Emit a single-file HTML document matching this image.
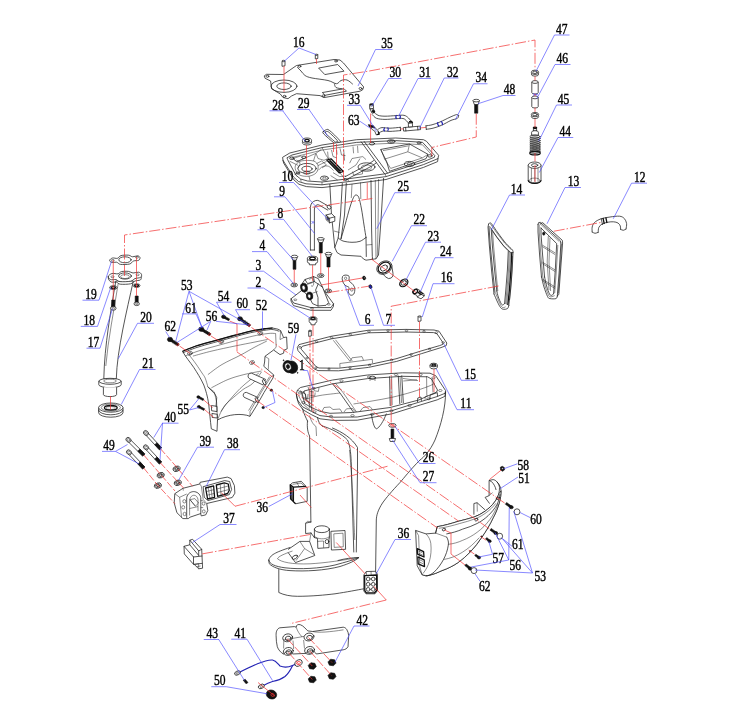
<!DOCTYPE html>
<html><head><meta charset="utf-8"><title>Exploded view</title>
<style>
html,body{margin:0;padding:0;background:#fff}
svg{display:block;will-change:transform}
.k{fill:none;stroke:#1c1c1c;stroke-width:.75;stroke-linejoin:round;stroke-linecap:round}
.kw{fill:#fff;stroke:#1c1c1c;stroke-width:.75;stroke-linejoin:round}
.kt{fill:none;stroke:#1c1c1c;stroke-width:.5;stroke-linejoin:round}
.kk{fill:none;stroke:#111;stroke-width:1.3;stroke-linejoin:round}
.f{fill:#111;stroke:#111;stroke-width:.6;stroke-linejoin:round}
.r{fill:none;stroke:#f23030;stroke-width:.7;stroke-dasharray:11 2 1.5 2}
.rs{fill:none;stroke:#f23030;stroke-width:.7}
.b{fill:none;stroke:#4848ff;stroke-width:.65}
.bb{fill:none;stroke:#2222b4;stroke-width:1.15}
text{font-family:"Liberation Serif",serif;font-size:13.8px;fill:#000;stroke:#000;stroke-width:.4px}
</style></head><body>
<svg width="738" height="720" viewBox="0 0 738 720">
<rect width="738" height="720" fill="#fff"/>
<!-- s_top -->
<polygon class="k" points="264.50,75.70 266.50,74.30 283.50,74.50 296.50,65.50 334.00,59.50 340.00,60.00 343.50,63.00 363.70,87.00 362.50,90.00 360.00,91.20 324.00,97.60 320.00,95.60 296.50,93.70 291.50,96.00 288.00,98.70 283.00,97.50 280.30,94.00 271.50,88.70 270.60,81.00 265.50,78.50" />
<ellipse class="k" cx="284.00" cy="86.20" rx="13.00" ry="6.20" />
<ellipse class="k" cx="284.00" cy="86.20" rx="7.20" ry="3.30" />
<polygon class="k" points="319.00,68.00 337.70,64.50 344.00,71.20 325.20,74.50" />
<path class="k" d="M297.50 67.50C298.08 68.08 299.75 69.67 301.00 71.00C302.25 72.33 303.17 74.33 305.00 75.50C306.83 76.67 308.17 77.17 312.00 78.00C315.83 78.83 323.92 79.55 328.00 80.50C332.08 81.45 334.33 83.70 336.50 83.70C338.67 83.70 339.25 81.12 341.00 80.50C342.75 79.88 345.08 79.42 347.00 80.00C348.92 80.58 351.58 83.33 352.50 84.00" />
<polygon class="k" points="322.70,92.50 344.00,88.70 346.50,91.20 325.50,95.20" />
<path class="k" d="M334.50 84.00C334.75 84.58 334.75 86.70 336.00 87.50C337.25 88.30 341.00 88.58 342.00 88.80" />
<ellipse class="k" cx="267.50" cy="76.30" rx="1.40" ry="1.00" />
<ellipse class="k" cx="299.50" cy="66.30" rx="1.40" ry="1.00" />
<ellipse class="k" cx="336.00" cy="61.00" rx="1.40" ry="1.00" />
<ellipse class="k" cx="360.50" cy="88.50" rx="1.40" ry="1.00" />
<ellipse class="k" cx="323.50" cy="95.80" rx="1.40" ry="1.00" />
<ellipse class="k" cx="284.50" cy="96.30" rx="1.40" ry="1.00" />
<polygon class="kw" points="282.00,61.30 285.00,60.80 285.00,65.80 282.00,66.30" />
<ellipse class="kw" cx="283.50" cy="61.00" rx="1.50" ry="0.70" />
<polygon class="kw" points="315.30,55.00 317.80,54.60 317.80,58.50 315.30,58.90" />
<ellipse class="kw" cx="316.50" cy="54.80" rx="1.30" ry="0.60" />
<ellipse class="kw" cx="307.00" cy="142.40" rx="4.60" ry="2.60" />
<ellipse class="kw" cx="307.00" cy="140.60" rx="4.60" ry="2.60" />
<ellipse class="kk" cx="307.00" cy="140.60" rx="2.20" ry="1.20" />
<path class="k" d="M323.30 131.60C323.63 130.92 324.80 130.12 325.80 129.90C326.80 129.68 327.00 128.57 329.30 130.30C331.60 132.03 337.92 138.20 339.60 140.30C341.28 142.40 339.97 142.35 339.40 142.90C338.83 143.45 337.17 143.65 336.20 143.60C335.23 143.55 335.67 144.20 333.60 142.60C331.53 141.00 325.52 135.83 323.80 134.00C322.08 132.17 322.97 132.28 323.30 131.60Z" />
<path class="k" d="M325.60 132.20C326.07 131.93 326.62 130.57 328.60 132.00C330.58 133.43 336.23 139.17 337.50 140.80C338.77 142.43 336.72 141.72 336.20 141.80C335.68 141.88 336.13 142.67 334.40 141.30C332.67 139.93 327.27 135.12 325.80 133.60C324.33 132.08 325.13 132.47 325.60 132.20Z" />
<polygon class="kw" points="369.50,105.30 373.30,104.80 373.60,108.50 369.80,109.00" />
<ellipse class="kw" cx="371.40" cy="105.00" rx="1.90" ry="0.90" />
<polygon class="kw" points="370.00,109.00 373.30,108.60 374.80,112.20 372.00,113.30" />
<polygon class="f" points="372.80,109.60 375.00,111.20 374.00,113.00 371.80,111.60" />
<polyline class="kk" points="369.60,104.40 373.40,104.00" />
<path class="k" d="M374.00 112.20C374.67 112.72 376.17 114.63 378.00 115.30C379.83 115.97 382.00 116.15 385.00 116.20C388.00 116.25 392.83 115.75 396.00 115.60C399.17 115.45 401.92 114.90 404.00 115.30C406.08 115.70 407.25 116.93 408.50 118.00C409.75 119.07 411.00 121.08 411.50 121.70" />
<path class="k" d="M372.30 114.60C373.00 115.22 374.38 117.50 376.50 118.30C378.62 119.10 381.75 119.33 385.00 119.40C388.25 119.47 393.00 118.85 396.00 118.70C399.00 118.55 401.30 118.20 403.00 118.50C404.70 118.80 405.23 119.65 406.20 120.50C407.17 121.35 408.37 123.08 408.80 123.60" />
<path class="bb" d="M396.6 115q-1.6 1.9 0 3.9M399.6 114.8q1.6 1.9 0 4" stroke-width="1.7"/>
<path class="k" d="M378.00 129.30C378.67 129.02 380.00 127.78 382.00 127.60C384.00 127.42 386.95 128.25 390.00 128.20C393.05 128.15 398.58 127.45 400.30 127.30" />
<path class="k" d="M379.00 133.00C379.67 132.67 381.17 131.27 383.00 131.00C384.83 130.73 387.07 131.47 390.00 131.40C392.93 131.33 398.83 130.73 400.60 130.60" />
<polyline class="k" points="400.30,127.30 400.60,130.60" />
<path class="bb" d="M384.6 127.6q-1.5 1.9 .1 3.8M387.6 127.4q1.5 1.8 .1 3.8" stroke-width="1.7"/>
<polygon class="kw" points="370.00,125.80 374.50,127.00 377.80,130.60 379.20,134.20 376.20,134.80 374.80,131.20 371.50,129.00" />
<polygon class="f" points="368.30,124.60 373.60,125.80 374.60,128.00 369.30,127.00" />
<polyline class="kk" points="376.80,134.60 379.20,134.20 378.20,131.60" />
<polyline class="kk" points="408.20,123.20 412.40,122.80" />
<polyline class="kk" points="409.00,121.60 411.60,121.30 412.60,123.00" />
<polygon class="kw" points="403.30,127.60 420.30,126.10 420.60,129.60 403.60,131.10" />
<polygon class="kw" points="408.50,127.00 408.30,123.30 412.30,122.90 412.60,126.70" />
<polyline class="k" points="405.60,127.40 405.90,131.00" />
<polyline class="k" points="417.60,126.40 417.90,129.90" />
<polyline class="rs" points="400.60,129.00 403.40,128.90" />
<polyline class="rs" points="420.60,127.90 426.00,127.40" />
<path class="k" d="M426.00 125.80C427.00 125.63 429.67 125.43 432.00 124.80C434.33 124.17 437.00 123.27 440.00 122.00C443.00 120.73 447.25 118.43 450.00 117.20C452.75 115.97 455.07 114.87 456.50 114.60C457.93 114.33 458.25 115.43 458.60 115.60" />
<path class="k" d="M426.30 129.30C427.42 129.12 430.47 128.87 433.00 128.20C435.53 127.53 438.50 126.60 441.50 125.30C444.50 124.00 448.37 121.55 451.00 120.40C453.63 119.25 456.03 119.20 457.30 118.40C458.57 117.60 458.38 116.07 458.60 115.60" />
<polyline class="k" points="426.00,125.80 426.30,129.30" />
<path class="bb" d="M437.8 122.3q-.8 2.4 1.4 4M440.8 121.1q2.2 1.6 1.5 4" stroke-width="1.7"/>
<polygon class="f" points="474.60,104.00 477.80,104.00 477.80,113.20 474.60,113.20" />
<path class="kw" d="M473.00 100.60L479.40 100.60L478.10 104.50L474.30 104.50Z" />
<ellipse class="kw" cx="476.20" cy="100.60" rx="3.20" ry="1.30" />
<ellipse class="kw" cx="535.00" cy="74.00" rx="3.70" ry="2.20" />
<ellipse class="kw" cx="535.00" cy="72.30" rx="3.70" ry="2.20" />
<ellipse class="k" cx="535.00" cy="72.30" rx="2.20" ry="1.20" />
<path class="kw" d="M531.8 82v10.6a3.2 1.4 0 0 0 6.4 0V82" />
<ellipse class="kw" cx="535.00" cy="82.00" rx="3.20" ry="1.40" />
<path class="kw" d="M531.8 97.4v9.2a3.2 1.4 0 0 0 6.4 0V97.4" />
<ellipse class="kw" cx="535.00" cy="97.40" rx="3.20" ry="1.40" />
<path class="b" d="M533 93.6q2 1.2 4.5 .6M533 95.4q2-1.2 4.5-.6" />
<ellipse class="kw" cx="535.00" cy="116.40" rx="3.70" ry="2.20" />
<ellipse class="kw" cx="535.00" cy="114.60" rx="3.70" ry="2.20" />
<ellipse class="k" cx="535.00" cy="114.60" rx="2.20" ry="1.20" />
<polygon class="kw" points="533.40,127.60 536.60,127.60 536.60,131.00 533.40,131.00" />
<ellipse class="kk" cx="535.00" cy="127.80" rx="1.60" ry="0.70" />
<path class="kw" d="M531.6 132.2a3.4 1.5 0 0 1 6.8 0v3h-6.8z" />
<ellipse class="k" cx="535.00" cy="136.60" rx="5.20" ry="1.60" />
<ellipse class="k" cx="535.00" cy="138.50" rx="5.20" ry="1.60" />
<ellipse class="k" cx="535.00" cy="140.40" rx="5.20" ry="1.60" />
<ellipse class="k" cx="535.00" cy="142.30" rx="5.20" ry="1.60" />
<ellipse class="k" cx="535.00" cy="144.20" rx="5.20" ry="1.60" />
<ellipse class="k" cx="535.00" cy="146.10" rx="5.20" ry="1.60" />
<ellipse class="k" cx="535.00" cy="148.00" rx="5.20" ry="1.60" />
<ellipse class="k" cx="535.00" cy="149.90" rx="5.20" ry="1.60" />
<ellipse class="k" cx="535.00" cy="151.80" rx="5.20" ry="1.60" />
<ellipse class="kk" cx="535.00" cy="153.20" rx="5.20" ry="1.70" />
<path class="kw" d="M528.2 165.2v15a6.4 3.2 0 0 0 12.8 0v-15" />
<ellipse class="kw" cx="534.60" cy="165.20" rx="6.40" ry="3.20" />
<ellipse class="k" cx="534.60" cy="165.20" rx="3.20" ry="1.50" />
<ellipse class="kt" cx="534.60" cy="180.40" rx="5.00" ry="2.30" />
<line class="kt" x1="531.40" y1="168.00" x2="531.40" y2="181.50"/>
<line class="kt" x1="534.80" y1="168.00" x2="534.80" y2="181.50"/>
<line class="kt" x1="538.00" y1="168.00" x2="538.00" y2="181.50"/>
<path class="kk" d="M528.2 180.2a6.4 3.2 0 0 0 12.8 0" />
<path class="k" d="M488.60 224.00C488.88 223.82 489.70 222.80 490.30 222.90C490.90 223.00 490.92 222.92 492.20 224.60C493.48 226.28 495.70 229.85 498.00 233.00C500.30 236.15 503.62 240.70 506.00 243.50C508.38 246.30 511.13 248.28 512.30 249.80C513.47 251.32 512.88 252.13 513.00 252.60" />
<polyline class="k" points="513.00,252.60 512.20,270.00 510.60,290.00 508.80,305.50" />
<path class="k" d="M508.80 305.50C508.58 306.02 508.38 307.97 507.50 308.60C506.62 309.23 504.65 309.47 503.50 309.30C502.35 309.13 501.60 308.82 500.60 307.60C499.60 306.38 498.60 304.27 497.50 302.00C496.40 299.73 494.58 295.33 494.00 294.00" />
<polyline class="k" points="494.00,294.00 491.50,270.00 489.30,245.00 488.00,227.00 488.60,224.00" />
<polyline class="k" points="491.20,229.00 497.00,237.50 504.00,246.50 508.30,250.80 507.40,270.00 505.80,290.00 504.60,303.30" />
<path class="k" d="M504.60 303.30C504.33 303.58 503.55 304.92 503.00 305.00C502.45 305.08 502.08 305.13 501.30 303.80C500.52 302.47 499.05 299.13 498.30 297.00C497.55 294.87 497.05 292.00 496.80 291.00" />
<polyline class="k" points="496.80,291.00 494.60,270.00 492.40,246.00 491.20,229.00" />
<polyline class="kt" points="489.90,226.50 495.80,235.50 503.00,245.00 510.50,252.30 509.60,270.00 508.00,290.00 506.60,304.50" />
<polyline class="kt" points="510.50,252.30 513.00,252.60" />
<polyline class="kt" points="508.30,250.80 510.50,252.30" />
<polyline class="kk" points="511.80,252.30 510.90,270.00 509.40,290.00 507.80,305.00" />
<polyline class="kt" points="512.40,256.00 511.40,280.00 509.60,300.00" />
<polyline class="k" points="489.00,226.50 490.30,246.00 492.60,270.00 495.00,292.50" />
<polyline class="kt" points="509.30,251.60 508.50,270.00 506.90,290.00 505.60,304.00" />
<path class="kt" d="M505.60 306.80C505.23 306.93 504.10 307.67 503.40 307.60C502.70 307.53 502.22 307.58 501.40 306.40C500.58 305.22 499.47 302.73 498.50 300.50C497.53 298.27 496.08 294.25 495.60 293.00" />
<polyline class="kt" points="490.20,223.60 496.60,232.60 504.60,243.00 511.60,250.00" />
<polyline class="kt" points="492.60,231.50 493.60,246.00 495.80,270.00 497.80,291.00" />
<polyline class="k" points="538.00,224.60 538.60,222.60 540.30,222.30 560.20,240.60 560.90,243.00" />
<polyline class="k" points="560.90,243.00 559.30,270.00 557.30,296.00" />
<path class="k" d="M557.30 296.00C557.08 296.43 557.22 298.17 556.00 298.60C554.78 299.03 551.40 298.93 550.00 298.60C548.60 298.27 548.60 298.53 547.60 296.60C546.60 294.67 545.02 290.27 544.00 287.00C542.98 283.73 541.92 278.67 541.50 277.00" />
<polyline class="k" points="541.50,277.00 539.60,255.00 538.00,232.00 538.00,224.60" />
<polyline class="k" points="540.50,223.70 542.60,222.60 562.30,240.30 562.60,243.00 560.60,270.00 558.80,294.50 557.30,296.00" />
<polyline class="k" points="541.00,228.00 556.70,243.60 555.30,270.00 553.60,293.50" />
<path class="k" d="M553.60 293.50C553.33 293.80 552.67 295.18 552.00 295.30C551.33 295.42 550.50 295.75 549.60 294.20C548.70 292.65 547.43 288.87 546.60 286.00C545.77 283.13 544.93 278.50 544.60 277.00" />
<polyline class="k" points="544.60,277.00 542.60,255.00 541.00,234.00 541.00,228.00" />
<polyline class="kt" points="548.30,236.00 547.20,262.00 549.00,290.00" />
<polyline class="kt" points="550.00,237.60 549.00,262.00 550.60,291.00" />
<polyline class="kt" points="542.20,245.00 555.20,253.00" />
<polyline class="kt" points="542.40,246.60 555.10,254.60" />
<polyline class="kt" points="542.20,262.00 555.20,270.00" />
<polyline class="kt" points="542.40,263.60 555.10,271.60" />
<polyline class="kt" points="542.20,279.00 555.20,287.00" />
<polyline class="kt" points="542.40,280.60 555.10,288.60" />
<ellipse class="f" cx="543.80" cy="233.60" rx="1.20" ry="1.60" />
<polyline class="kt" points="539.20,224.50 539.30,232.00 540.80,255.00 542.80,277.00 545.40,287.00" />
<polyline class="kt" points="561.60,244.00 560.00,270.00 558.20,293.00" />
<polyline class="kt" points="557.80,245.00 556.40,270.00 554.70,293.00" />
<polyline class="kt" points="539.60,223.30 559.30,241.60" />
<path class="kt" d="M545.40 287.00C545.93 288.40 547.67 293.77 548.60 295.40C549.53 297.03 549.98 296.77 551.00 296.80C552.02 296.83 554.08 295.80 554.70 295.60" />
<path class="k" d="M592.20 232.00C592.20 231.17 591.82 228.58 592.20 227.00C592.58 225.42 593.07 223.85 594.50 222.50C595.93 221.15 598.22 219.82 600.80 218.90C603.38 217.98 606.88 217.45 610.00 217.00C613.12 216.55 617.12 215.95 619.50 216.20C621.88 216.45 623.12 217.28 624.30 218.50C625.48 219.72 626.32 221.75 626.60 223.50C626.88 225.25 626.10 228.08 626.00 229.00" />
<path class="k" d="M598.20 232.30C598.30 231.50 598.17 228.88 598.80 227.50C599.43 226.12 600.47 224.88 602.00 224.00C603.53 223.12 606.08 222.57 608.00 222.20C609.92 221.83 611.83 221.67 613.50 221.80C615.17 221.93 616.87 222.30 618.00 223.00C619.13 223.70 619.87 224.95 620.30 226.00C620.73 227.05 620.55 228.75 620.60 229.30" />
<path class="k" d="M592.20 232.00C592.67 232.22 594.00 233.25 595.00 233.30C596.00 233.35 597.67 232.47 598.20 232.30" />
<path class="k" d="M620.60 229.30C621.05 229.47 622.40 230.35 623.30 230.30C624.20 230.25 625.55 229.22 626.00 229.00" />
<polyline class="kk" points="603.00,217.80 604.30,224.00" />
<polyline class="kk" points="605.80,217.40 607.00,223.00" />
<polyline class="k" points="601.20,218.60 602.50,224.60" />
<!-- s_mid -->
<polyline class="kw" points="329.80,184.00 331.50,215.00 334.80,247.50 337.00,252.50 341.00,255.00 361.00,256.30 363.50,259.00 366.00,260.20 376.00,258.80 378.50,255.00 381.00,220.00 383.60,178.00" />
<polyline class="k" points="342.30,183.50 340.50,215.00 338.20,238.00 334.80,247.50" />
<polyline class="k" points="346.30,183.00 344.50,215.00 341.00,238.80" />
<path class="k" d="M341.00 238.80C341.67 236.50 343.50 230.30 345.00 225.00C346.50 219.70 348.58 211.58 350.00 207.00C351.42 202.42 352.50 199.50 353.50 197.50C354.50 195.50 355.12 195.00 356.00 195.00C356.88 195.00 357.88 195.17 358.80 197.50C359.72 199.83 360.63 204.42 361.50 209.00C362.37 213.58 363.25 220.25 364.00 225.00C364.75 229.75 365.67 235.42 366.00 237.50" />
<path class="k" d="M338.20 238.00C339.00 238.50 340.70 240.28 343.00 241.00C345.30 241.72 349.17 242.25 352.00 242.30C354.83 242.35 357.67 242.10 360.00 241.30C362.33 240.50 365.00 238.13 366.00 237.50" />
<polyline class="k" points="366.00,237.50 366.30,256.50" />
<polyline class="k" points="371.00,180.50 371.60,230.00 372.30,256.30 372.60,259.30" />
<polyline class="kt" points="375.30,180.00 375.60,230.00 376.00,258.80" />
<polyline class="kt" points="378.60,179.00 378.00,230.00 377.30,256.50" />
<polyline class="kt" points="334.00,231.00 339.50,232.50" />
<polyline class="kt" points="366.30,245.00 372.20,244.50" />
<polyline class="kt" points="352.00,184.00 351.30,198.00" />
<polyline class="kt" points="360.50,182.50 360.80,199.00" />
<polygon class="kw" points="282.60,157.30 289.80,153.00 322.00,145.00 356.60,139.70 395.80,138.00 423.50,139.70 426.50,141.30 438.60,155.30 438.00,158.60 423.50,164.60 386.00,176.60 348.50,181.60 322.00,184.80 306.00,183.80 298.50,181.50 293.50,177.00 283.00,160.30" />
<polyline class="k" points="283.00,160.30 283.60,163.00 294.00,180.00 299.00,184.30 306.50,186.60 322.00,187.60 348.50,184.50 386.00,179.50 423.50,167.40 437.60,161.60 438.00,158.60" />
<polygon class="k" points="287.30,157.60 292.00,155.00 322.00,147.60 356.60,142.40 395.80,140.60 422.50,142.30 434.80,155.60 434.30,157.30 422.00,162.30 385.30,173.80 348.00,178.80 322.00,182.00 307.50,181.00 300.60,179.00 296.00,175.30 287.80,160.00" />
<polyline class="k" points="361.20,141.80 384.60,173.90" />
<polyline class="k" points="364.20,141.50 387.60,173.20" />
<polyline class="k" points="347.80,178.80 372.60,165.60 376.30,162.80" />
<polyline class="k" points="345.30,176.60 370.00,163.20 373.60,160.60" />
<polyline class="kt" points="292.00,157.50 322.00,150.10 356.60,144.90 395.80,143.10 422.50,144.80 432.60,155.80" />
<polygon class="kt" points="293.50,158.40 300.50,156.00 303.40,158.80 296.50,161.80" />
<polyline class="kt" points="298.30,165.50 289.60,161.20" />
<polyline class="kt" points="299.60,172.00 294.60,174.60" />
<polyline class="kt" points="316.50,163.60 321.60,161.00 326.40,164.80 322.00,168.00" />
<path class="kt" d="M318.50 170.20C319.18 169.60 320.92 167.25 322.60 166.60C324.28 165.95 326.77 165.63 328.60 166.30C330.43 166.97 332.77 169.88 333.60 170.60" />
<polyline class="kt" points="349.60,163.20 352.00,158.50 362.80,156.60 366.00,159.60" />
<polyline class="kt" points="352.60,171.60 353.60,175.20 362.40,174.00 362.60,170.80" />
<polyline class="kt" points="300.60,179.00 301.20,181.60" />
<polyline class="kt" points="322.00,182.00 322.00,184.80" />
<polyline class="kt" points="348.00,178.80 348.50,181.60" />
<polyline class="kt" points="385.30,173.80 386.00,176.60" />
<polyline class="kt" points="322.00,147.60 326.50,156.00 345.00,179.20" />
<polygon class="k" points="381.00,149.40 409.50,144.00 428.00,154.30 426.00,158.70 412.00,163.60 389.50,171.30 386.60,161.60" />
<polygon class="kt" points="384.60,159.10 407.80,151.80 422.40,157.90 390.70,168.40" />
<polyline class="kt" points="381.00,149.40 384.60,159.10" />
<polyline class="kt" points="409.50,144.00 407.80,151.80" />
<polyline class="kt" points="428.00,154.30 422.40,157.90" />
<polyline class="kt" points="383.00,150.60 408.60,145.80" />
<ellipse class="k" cx="307.00" cy="168.40" rx="9.20" ry="5.00" />
<ellipse class="k" cx="307.00" cy="168.90" rx="5.20" ry="2.70" />
<ellipse class="kt" cx="306.80" cy="172.60" rx="3.30" ry="1.70" />
<path class="kt" d="M296.50 160.00C297.08 160.50 299.75 161.58 300.00 163.00C300.25 164.42 298.33 167.58 298.00 168.50" />
<polyline class="kt" points="290.30,157.50 297.00,161.50 316.00,153.30 321.50,149.20" />
<polyline class="kt" points="316.00,153.30 318.00,158.50 324.00,160.30 329.50,157.80" />
<path class="kt" d="M296.00 164.50C297.07 162.97 299.08 161.38 302.00 160.80C304.92 160.22 310.83 160.20 313.50 161.00C316.17 161.80 317.52 163.67 318.00 165.60C318.48 167.53 317.90 170.83 316.40 172.60C314.90 174.37 311.73 175.77 309.00 176.20C306.27 176.63 302.23 176.23 300.00 175.20C297.77 174.17 296.27 171.78 295.60 170.00C294.93 168.22 294.93 166.03 296.00 164.50Z" />
<polyline class="kt" points="318.00,165.60 326.60,161.40" />
<polyline class="kt" points="313.50,161.00 315.60,154.00" />
<polyline class="kt" points="309.00,176.20 310.00,180.60" />
<polyline class="kt" points="327.60,151.60 328.20,157.60" />
<polyline class="kt" points="336.60,149.80 337.00,154.60" />
<polyline class="kt" points="343.60,149.00 344.60,160.60" />
<polyline class="kt" points="333.00,172.60 339.60,176.60 346.00,176.00" />
<polyline class="kt" points="330.60,175.60 337.60,180.00" />
<polygon class="kk" points="326.80,160.00 331.00,158.80 343.30,171.50 339.20,172.80" />
<polygon class="f" points="329.00,160.80 330.60,160.40 341.00,171.00 339.50,171.50" />
<ellipse class="k" cx="366.50" cy="167.00" rx="8.50" ry="4.20" />
<ellipse class="kt" cx="366.50" cy="167.40" rx="5.00" ry="2.40" />
<polyline class="kt" points="348.00,170.00 356.00,165.00 360.00,158.50" />
<polyline class="kt" points="331.50,150.00 333.00,156.50 337.00,158.00" />
<polyline class="kt" points="340.00,148.30 341.50,155.00 345.50,155.60" />
<polyline class="kt" points="353.00,146.50 353.60,153.30" />
<polyline class="kt" points="357.50,145.80 358.00,153.00" />
<ellipse class="k" cx="324.40" cy="178.20" rx="4.00" ry="2.20" />
<ellipse class="k" cx="409.60" cy="164.00" rx="5.20" ry="2.60" />
<ellipse class="k" cx="391.20" cy="141.50" rx="3.80" ry="1.80" />
<ellipse class="k" cx="372.00" cy="143.60" rx="2.60" ry="1.40" />
<ellipse class="k" cx="429.80" cy="155.90" rx="2.20" ry="1.20" />
<ellipse class="k" cx="419.00" cy="142.80" rx="2.00" ry="1.00" />
<ellipse class="k" cx="291.80" cy="158.20" rx="2.20" ry="1.30" />
<ellipse class="k" cx="304.00" cy="157.30" rx="2.20" ry="1.20" />
<ellipse class="k" cx="297.80" cy="173.00" rx="1.80" ry="1.10" />
<ellipse class="k" cx="345.50" cy="179.60" rx="1.60" ry="0.90" />
<ellipse class="kt" cx="324.40" cy="178.20" rx="1.90" ry="1.00" />
<ellipse class="kt" cx="409.60" cy="164.00" rx="2.40" ry="1.20" />
<ellipse class="kt" cx="391.20" cy="141.50" rx="1.70" ry="0.80" />
<path class="k" d="M310.4 250V207.5q.2-5.6 5.4-7q2-.5 3.8 .6l9.4 5.4" />
<path class="k" d="M314.4 250V209q.2-3.4 2.6-4.2q1.3-.3 2.4 .4l8.4 4.9" />
<polyline class="k" points="310.40,250.00 314.40,250.00" />
<path class="b" d="M311.6 221l2.8 2.8M314.4 221l-2.8 2.8" />
<ellipse class="kw" cx="329.00" cy="207.20" rx="1.60" ry="2.10" transform="rotate(-40.0 329.00 207.20)" />
<polygon class="kw" points="326.00,215.00 331.50,213.60 334.80,216.80 334.80,221.20 329.60,222.80 326.00,219.60" />
<polyline class="k" points="326.00,215.00 329.60,218.20 334.80,216.80" />
<polyline class="k" points="329.60,218.20 329.60,222.80" />
<polygon class="f" points="327.30,216.80 328.60,218.00 328.60,220.60 327.30,219.50" />
<polygon class="f" points="293.10,259.70 295.90,259.70 295.90,269.30 293.10,269.30" />
<path class="kw" d="M291.30 256.50L297.70 256.50L296.20 260.20L292.80 260.20Z" />
<ellipse class="kw" cx="294.50" cy="256.50" rx="3.20" ry="1.30" />
<polygon class="f" points="319.30,242.00 322.30,242.00 322.30,253.00 319.30,253.00" />
<path class="kw" d="M317.50 238.80L324.10 238.80L322.60 242.50L319.00 242.50Z" />
<ellipse class="kw" cx="320.80" cy="238.80" rx="3.30" ry="1.30" />
<polygon class="f" points="326.95,256.60 330.05,256.60 330.05,267.00 326.95,267.00" />
<path class="kw" d="M325.20 253.60L331.80 253.60L330.35 257.10L326.65 257.10Z" />
<ellipse class="kw" cx="328.50" cy="253.60" rx="3.30" ry="1.30" />
<path class="kw" d="M307.4 258.4v3.4q0 1.2 2 1.6v1.4h6.2v-1.4q2-.4 2-1.6v-3.4" />
<ellipse class="kw" cx="312.50" cy="258.40" rx="5.10" ry="2.20" />
<ellipse class="kk" cx="312.50" cy="258.40" rx="2.80" ry="1.20" />
<ellipse class="kw" cx="294.20" cy="285.00" rx="3.30" ry="1.90" />
<ellipse class="k" cx="294.20" cy="285.00" rx="1.50" ry="0.80" />
<ellipse class="kw" cx="320.70" cy="275.60" rx="3.30" ry="1.90" />
<ellipse class="k" cx="320.70" cy="275.60" rx="1.50" ry="0.80" />
<ellipse class="kw" cx="328.30" cy="290.90" rx="3.30" ry="1.90" />
<ellipse class="k" cx="328.30" cy="290.90" rx="1.50" ry="0.80" />
<polygon class="kw" points="291.00,298.80 302.30,290.00 306.00,290.00 322.00,288.00 333.50,303.80 333.50,306.30 331.00,310.30 311.00,310.30 293.50,305.60 291.00,301.00" />
<polyline class="k" points="291.00,298.80 293.60,303.00 311.00,307.60 331.00,307.60 333.50,303.80" />
<ellipse class="kt" cx="295.30" cy="299.80" rx="1.50" ry="0.80" />
<ellipse class="kt" cx="328.80" cy="304.30" rx="1.50" ry="0.80" />
<ellipse class="kt" cx="312.00" cy="308.20" rx="1.50" ry="0.80" />
<polygon class="kw" points="302.50,283.00 305.00,279.50 313.50,276.60 318.30,278.60 322.60,287.30 328.60,302.60 326.00,305.30 318.00,306.00 312.50,303.60 309.00,296.60 305.50,293.50 302.00,288.50" />
<polyline class="k" points="313.50,276.60 314.30,281.50 318.20,284.00 322.60,287.30" />
<polyline class="k" points="305.00,279.50 307.50,283.60 314.30,281.50" />
<polyline class="k" points="318.20,284.00 315.60,290.00 318.00,297.50 318.00,306.00" />
<path class="kt" d="M309.20 279.50C309.57 279.32 310.72 278.38 311.40 278.40C312.08 278.42 312.93 278.62 313.30 279.60C313.67 280.58 313.75 283.20 313.60 284.30C313.45 285.40 312.83 285.98 312.40 286.20C311.97 286.42 311.23 285.70 311.00 285.60" />
<ellipse class="f" cx="304.00" cy="287.60" rx="3.40" ry="4.40" transform="rotate(-12.0 304.00 287.60)" />
<ellipse class="kw" cx="303.60" cy="287.70" rx="1.70" ry="2.50" transform="rotate(-12.0 303.60 287.70)" />
<ellipse class="f" cx="309.60" cy="296.00" rx="3.20" ry="3.90" transform="rotate(-12.0 309.60 296.00)" />
<ellipse class="kw" cx="309.30" cy="296.10" rx="1.60" ry="2.20" transform="rotate(-12.0 309.30 296.10)" />
<polyline class="kt" points="306.60,284.60 312.60,282.60" />
<polyline class="kt" points="312.30,293.20 317.60,291.60" />
<polyline class="kt" points="306.80,291.60 308.50,292.60" />
<path class="kw" d="M309.2 318.4v3.3q0 1 1.8 1.5v1.6h4v-1.6q1.8-.5 1.8-1.5v-3.3" />
<ellipse class="kw" cx="313.00" cy="318.40" rx="3.80" ry="1.70" />
<ellipse class="kk" cx="313.00" cy="318.40" rx="2.20" ry="0.95" />
<polygon class="kw" points="308.70,331.00 311.30,330.60 311.30,336.00 308.70,336.40" />
<ellipse class="kw" cx="310.00" cy="330.80" rx="1.30" ry="0.60" />
<path class="kw" d="M342.50 276.60C342.93 275.62 344.02 275.17 345.10 275.10C346.18 275.03 348.32 275.22 349.00 276.20C349.68 277.18 348.58 279.67 349.20 281.00C349.82 282.33 351.77 282.93 352.70 284.20C353.63 285.47 354.62 286.97 354.80 288.60C354.98 290.23 354.52 292.92 353.80 294.00C353.08 295.08 351.42 295.47 350.50 295.10C349.58 294.73 348.55 293.07 348.30 291.80C348.05 290.53 349.53 288.58 349.00 287.50C348.47 286.42 346.18 286.38 345.10 285.30C344.02 284.22 342.93 282.45 342.50 281.00C342.07 279.55 342.07 277.58 342.50 276.60Z" />
<ellipse class="kt" cx="345.60" cy="278.30" rx="1.10" ry="1.30" />
<ellipse class="kt" cx="351.80" cy="289.60" rx="1.30" ry="1.60" />
<ellipse class="f" cx="364.10" cy="278.00" rx="1.50" ry="1.90" transform="rotate(-25.0 364.10 278.00)" />
<ellipse class="kw" cx="364.60" cy="277.80" rx="0.50" ry="0.80" transform="rotate(-25.0 364.60 277.80)" />
<ellipse class="f" cx="370.40" cy="286.60" rx="1.50" ry="1.90" transform="rotate(-25.0 370.40 286.60)" />
<ellipse class="bb" cx="370.40" cy="286.60" rx="0.50" ry="0.80" transform="rotate(-25.0 370.40 286.60)" />
<path class="kw" d="M377.4 268.6l8.6 8.6q2.6 2.4 5.2 .8q2.6-1.8 1.8-4.6l-1.6-9.6" />
<ellipse class="kw" cx="384.30" cy="267.60" rx="8.00" ry="6.20" transform="rotate(-32.0 384.30 267.60)" />
<ellipse class="kk" cx="384.30" cy="267.60" rx="6.60" ry="4.90" transform="rotate(-32.0 384.30 267.60)" />
<ellipse class="k" cx="384.00" cy="268.00" rx="3.80" ry="2.60" transform="rotate(-32.0 384.00 268.00)" />
<ellipse class="kk" cx="403.80" cy="282.90" rx="4.50" ry="3.20" transform="rotate(-38.0 403.80 282.90)" />
<ellipse class="k" cx="403.80" cy="282.90" rx="2.90" ry="1.80" transform="rotate(-38.0 403.80 282.90)" />
<polygon class="kw" points="413.00,291.60 416.80,288.80 419.60,290.20 420.20,291.60 423.80,293.60 424.30,296.00 421.00,298.80 417.50,297.20 416.60,295.20 413.60,294.00" />
<ellipse class="kk" cx="415.20" cy="291.40" rx="2.60" ry="1.90" transform="rotate(-38.0 415.20 291.40)" />
<polyline class="kk" points="417.60,293.20 420.60,290.90" />
<polyline class="kk" points="418.90,294.11 421.77,292.07" />
<polyline class="kk" points="420.20,295.02 422.94,293.24" />
<polyline class="k" points="417.30,297.00 420.80,294.20 424.00,295.80" />
<polygon class="kw" points="418.00,316.70 421.00,316.30 421.00,321.00 418.00,321.40" />
<ellipse class="kw" cx="419.50" cy="316.50" rx="1.50" ry="0.60" />
<path class="kw" d="M430 365v2.2a3.7 1.7 0 0 0 7.4 0V365" />
<ellipse class="kw" cx="433.70" cy="365.00" rx="3.70" ry="1.80" />
<ellipse class="kk" cx="433.70" cy="365.00" rx="1.90" ry="0.90" />
<polygon class="kw" points="297.30,347.60 299.00,344.60 331.00,336.30 368.50,330.20 406.00,329.40 434.00,330.00 439.00,331.20 446.80,343.00 446.20,345.60 441.00,347.60 421.70,353.60 396.70,361.40 368.50,367.40 338.50,370.80 318.00,370.60 314.00,368.80 298.00,350.60" />
<polygon class="k" points="301.30,347.80 302.50,346.20 331.50,338.80 368.60,332.80 406.00,332.00 433.60,332.60 437.00,333.80 443.20,343.00 442.80,344.40 439.60,345.60 421.00,351.00 396.00,358.80 368.30,364.80 338.50,368.20 319.00,368.00 316.00,366.60 301.60,349.60" />
<polyline class="kt" points="333.30,340.30 350.00,361.30" />
<polyline class="kt" points="335.50,339.80 352.30,361.00" />
<polyline class="kt" points="339.80,363.50 372.30,359.30 372.50,363.00" />
<polyline class="kt" points="339.80,363.50 340.00,367.50" />
<polyline class="kt" points="350.00,361.30 352.00,357.80 362.00,356.60 363.50,360.30" />
<ellipse class="kt" cx="300.00" cy="347.30" rx="1.30" ry="0.85" />
<ellipse class="kt" cx="316.60" cy="341.60" rx="1.30" ry="0.85" />
<ellipse class="kt" cx="331.60" cy="337.60" rx="1.30" ry="0.85" />
<ellipse class="kt" cx="350.30" cy="334.20" rx="1.30" ry="0.85" />
<ellipse class="kt" cx="369.00" cy="331.60" rx="1.30" ry="0.85" />
<ellipse class="kt" cx="388.00" cy="330.80" rx="1.30" ry="0.85" />
<ellipse class="kt" cx="406.50" cy="330.80" rx="1.30" ry="0.85" />
<ellipse class="kt" cx="424.00" cy="331.20" rx="1.30" ry="0.85" />
<ellipse class="kt" cx="436.50" cy="332.60" rx="1.30" ry="0.85" />
<ellipse class="kt" cx="443.20" cy="342.60" rx="1.30" ry="0.85" />
<ellipse class="kt" cx="429.60" cy="349.00" rx="1.30" ry="0.85" />
<ellipse class="kt" cx="411.00" cy="354.60" rx="1.30" ry="0.85" />
<ellipse class="kt" cx="391.60" cy="360.00" rx="1.30" ry="0.85" />
<ellipse class="kt" cx="369.50" cy="365.00" rx="1.30" ry="0.85" />
<ellipse class="kt" cx="350.00" cy="367.80" rx="1.30" ry="0.85" />
<ellipse class="kt" cx="329.00" cy="369.00" rx="1.30" ry="0.85" />
<ellipse class="kt" cx="316.00" cy="367.80" rx="1.30" ry="0.85" />
<ellipse class="kt" cx="307.00" cy="358.00" rx="1.30" ry="0.85" />
<!-- s_lower -->
<path class="k" d="M445.6 392C445.6 408 441 425 435 440C430 451 424 457 420 460C410 470 404 478 400 482.5C392 491 386 498 382.5 503C378 510 376.5 515 376.3 520L375.6 571" />
<path class="k" d="M307.5 421C306.8 428 308 433 309.6 436L310.9 522" />
<path class="k" d="M322.5 426C332 429 342 434 347.5 440C350.5 446 351 456 351.3 465L353.8 552" />
<path class="k" d="M332.5 428C342 432 352 438 357.5 447.5L357.5 470L356.3 552" />
<path class="kt" d="M349.5 450C351.5 470 353 500 354.8 540" />
<path class="k" d="M371.3 412.5C372 420 374 428 376.3 428.8C379.5 428 383.5 421 386.3 414" />
<path class="k" d="M302.5 408.8C304 414 306 418 307.5 421M317.5 417.5C318 421 320 425 322.5 426.3" />
<path class="kt" d="M309.5 415.5C311 421 313.5 425 316 426.5L316.5 436" />
<polygon class="kw" points="296.30,393.80 297.50,390.00 300.50,387.50 332.50,380.00 367.50,375.00 402.50,372.80 430.00,373.20 435.80,375.80 445.60,390.60 445.00,393.30 437.00,396.60 420.20,401.80 392.00,410.60 357.20,417.00 333.40,417.20 320.00,415.60 311.70,411.60 302.50,406.80 297.50,400.00" />
<polyline class="k" points="296.30,393.80 296.80,397.00 298.50,403.50 303.00,409.80 311.70,414.80 320.00,418.80 333.40,420.40 357.20,420.20 392.00,413.80 420.20,405.00 437.30,399.80 444.80,396.40 445.60,392.00" />
<polygon class="k" points="302.50,393.80 304.00,391.00 332.50,383.80 367.50,378.60 402.50,376.30 427.50,376.80 431.50,379.00 437.50,390.00 436.60,392.00 418.80,400.00 390.00,407.50 352.50,412.50 330.00,413.30 320.00,411.30 311.00,407.30 305.00,403.80" />
<polyline class="kt" points="304.00,391.00 306.50,399.00 311.00,407.30" />
<polyline class="k" points="332.50,383.80 340.00,393.00 353.50,412.30" />
<polyline class="kt" points="335.50,383.30 343.00,392.50 356.50,412.00" />
<path class="kt" d="M306.50 399.00C308.75 398.42 314.42 396.50 320.00 395.50C325.58 394.50 336.67 393.42 340.00 393.00" />
<path class="kt" d="M353.50 404.00C356.58 403.50 365.58 402.12 372.00 401.00C378.42 399.88 385.33 398.80 392.00 397.30C398.67 395.80 406.00 393.80 412.00 392.00C418.00 390.20 424.25 387.92 428.00 386.50C431.75 385.08 433.42 384.00 434.50 383.50" />
<polyline class="kt" points="403.30,381.00 417.00,379.80" />
<polyline class="k" points="389.60,376.80 390.20,405.60" />
<polyline class="kt" points="391.60,376.60 392.20,405.20" />
<polyline class="k" points="398.30,376.00 399.80,403.60" />
<polyline class="k" points="401.80,375.80 403.30,402.80" />
<polyline class="kt" points="400.00,376.00 401.60,403.00" />
<polyline class="kt" points="402.80,378.40 418.00,380.60" />
<polyline class="kt" points="426.60,376.00 426.80,395.50" />
<polyline class="kt" points="432.00,378.50 433.00,392.50" />
<polyline class="k" points="311.70,390.50 311.70,410.50" />
<polyline class="kt" points="309.20,391.20 309.40,408.50" />
<polyline class="kt" points="298.50,395.50 303.00,404.00 310.50,410.50" />
<polyline class="k" points="300.50,391.00 305.50,394.00 306.00,400.50 310.20,402.80" />
<polyline class="kt" points="312.80,386.80 314.30,390.80 318.40,391.40 319.00,387.60" />
<polyline class="kt" points="303.50,397.60 307.50,398.60 308.00,394.00" />
<ellipse class="kt" cx="313.50" cy="388.30" rx="1.70" ry="1.00" />
<ellipse class="kt" cx="341.50" cy="380.80" rx="1.70" ry="1.00" />
<ellipse class="kt" cx="369.00" cy="377.00" rx="1.70" ry="1.00" />
<ellipse class="kt" cx="396.00" cy="374.60" rx="1.70" ry="1.00" />
<ellipse class="kt" cx="420.50" cy="374.60" rx="1.70" ry="1.00" />
<ellipse class="kt" cx="433.50" cy="377.80" rx="1.70" ry="1.00" />
<ellipse class="kt" cx="440.30" cy="390.50" rx="1.70" ry="1.00" />
<ellipse class="kt" cx="428.50" cy="398.80" rx="1.70" ry="1.00" />
<ellipse class="kt" cx="409.50" cy="405.50" rx="1.70" ry="1.00" />
<ellipse class="kt" cx="391.50" cy="410.80" rx="1.70" ry="1.00" />
<ellipse class="kt" cx="372.00" cy="414.30" rx="1.70" ry="1.00" />
<ellipse class="kt" cx="352.50" cy="415.60" rx="1.70" ry="1.00" />
<ellipse class="kt" cx="331.00" cy="416.30" rx="1.70" ry="1.00" />
<ellipse class="kt" cx="314.50" cy="411.80" rx="1.70" ry="1.00" />
<ellipse class="kt" cx="303.50" cy="402.50" rx="1.70" ry="1.00" />
<ellipse class="kt" cx="300.00" cy="393.00" rx="1.70" ry="1.00" />
<ellipse class="k" cx="372.50" cy="377.80" rx="3.00" ry="1.60" />
<polyline class="kt" points="370.00,378.00 370.00,381.00" />
<polyline class="kt" points="375.00,378.00 375.00,381.00" />
<polyline class="kt" points="322.00,411.50 324.00,407.50 330.00,407.00 333.00,409.50 340.00,409.00 342.00,412.30" />
<polyline class="kt" points="344.00,412.00 346.50,408.80 352.50,408.50 355.00,411.60" />
<polyline class="kt" points="360.00,411.30 363.00,407.60 370.00,406.60 372.50,409.60" />
<polyline class="k" points="417.50,401.60 417.80,398.00 421.00,397.00 421.40,400.50" />
<polyline class="k" points="430.00,398.60 430.00,395.20 437.30,392.60 437.50,396.00" />
<polyline class="kt" points="425.00,399.60 425.20,396.60 428.00,395.60" />
<polyline class="kt" points="297.50,390.00 301.50,392.50 302.50,398.00 306.00,399.60" />
<polyline class="kt" points="308.00,387.00 309.50,391.30 313.50,392.00" />
<polyline class="kt" points="310.50,395.50 314.80,396.00 315.20,392.50" />
<polyline class="k" points="310.90,522.00 305.60,523.20 305.60,533.50 311.00,533.00" />
<polyline class="kt" points="305.60,523.20 307.60,521.20 310.90,522.00" />
<ellipse class="k" cx="321.90" cy="529.20" rx="7.50" ry="3.40" />
<path class="k" d="M314.4 529.2V537.6M329.4 529.2V538" />
<path class="kt" d="M314.4 536C317 539.5 326 539.8 329.4 536.6" />
<polyline class="k" points="311.00,533.00 314.40,537.60 317.50,538.50 317.80,548.40 329.00,547.60 329.00,538.20" />
<polyline class="kt" points="317.50,541.40 323.50,541.00 323.60,547.80" />
<ellipse class="k" cx="327.00" cy="541.60" rx="1.80" ry="2.10" />
<polygon class="k" points="331.30,531.30 345.00,530.50 345.60,549.30 331.80,550.00" />
<polygon class="kt" points="333.80,533.80 343.00,533.20 343.30,546.80 334.20,547.40" />
<polyline class="k" points="288.40,549.30 299.90,541.40 309.60,541.40 314.80,555.50 295.50,562.60 288.40,552.90" />
<polyline class="kt" points="299.90,541.40 304.60,548.60 296.00,560.60" />
<polyline class="kt" points="304.60,548.60 314.00,554.50" />
<polyline class="kt" points="309.60,541.40 311.00,533.00" />
<ellipse class="k" cx="294.80" cy="557.20" rx="3.00" ry="1.60" transform="rotate(-30.0 294.80 557.20)" />
<path class="k" d="M268.8 560C270 555 275 552.5 290 547.5M268.8 560C269 564 275 566.5 285 567.8C300 569.6 320 568.5 335 565C346 562 354 559.8 358.8 557.6C352 557.6 345 558.6 338 560.5" />
<path class="k" d="M268.8 560.3L269.2 563.6C272 567 280 570 290 570.6C305 571.6 325 570.5 340 566.5C349 563.6 355 561 358.8 557.6" />
<path class="kt" d="M277.5 558.8C281 562 292 564.6 310 563.8C325 563 345 560 358 557.6" />
<path class="kt" d="M277.5 558.8C278 556.6 284 554 292.5 551" />
<path class="k" d="M278.8 569.5L278.8 592.5C284 595 290 596.3 297.5 596.3C312 596.3 325 595 335 593.8C347 592 357 590 363.8 588.8" />
<ellipse class="f" cx="292.00" cy="367.20" rx="5.60" ry="6.30" transform="rotate(-20.0 292.00 367.20)" />
<ellipse class="f" cx="288.30" cy="366.60" rx="5.20" ry="6.20" transform="rotate(-20.0 288.30 366.60)" />
<ellipse class="kw" cx="288.00" cy="366.60" rx="3.10" ry="3.90" transform="rotate(-20.0 288.00 366.60)" />
<ellipse class="f" cx="288.00" cy="366.60" rx="1.60" ry="2.10" transform="rotate(-20.0 288.00 366.60)" />
<ellipse class="f" cx="297.60" cy="372.80" rx="0.50" ry="0.50" />
<ellipse class="f" cx="283.60" cy="360.30" rx="0.50" ry="0.50" />
<ellipse class="kw" cx="392.40" cy="425.40" rx="3.70" ry="1.90" />
<ellipse class="rs" cx="392.40" cy="425.40" rx="1.80" ry="0.90" />
<polygon class="f" points="391.00,429.00 393.80,429.00 393.80,438.50 391.00,438.50" />
<polygon class="kw" points="389.30,438.50 395.50,438.50 394.60,441.50 390.20,441.50" />
<!-- s_left -->
<path class="kw" d="M115.8 281C111 310 104.5 345 103.8 378.8L116.3 378.8C117 350 127 310 133.3 281Z" />
<path class="kt" d="M118.2 283.5C114 310 108 340 105.8 366" />
<path class="kw" d="M108.30 276.40C108.55 275.38 110.38 273.93 112.00 273.50C113.62 273.07 116.42 274.12 118.00 273.80C119.58 273.48 119.75 272.00 121.50 271.60C123.25 271.20 126.58 271.17 128.50 271.40C130.42 271.63 131.32 272.87 133.00 273.00C134.68 273.13 137.18 271.97 138.60 272.20C140.02 272.43 141.18 273.53 141.50 274.40C141.82 275.27 141.58 276.70 140.50 277.40C139.42 278.10 136.65 277.97 135.00 278.60C133.35 279.23 133.10 280.70 130.60 281.20C128.10 281.70 122.43 281.87 120.00 281.60C117.57 281.33 117.58 279.93 116.00 279.60C114.42 279.27 111.78 280.13 110.50 279.60C109.22 279.07 108.05 277.42 108.30 276.40Z" />
<path class="k" d="M108.30 276.40C108.33 276.83 108.05 278.07 108.50 279.00C108.95 279.93 109.67 281.47 111.00 282.00C112.33 282.53 114.95 281.83 116.50 282.20C118.05 282.57 117.95 283.93 120.30 284.20C122.65 284.47 128.15 284.33 130.60 283.80C133.05 283.27 133.38 281.63 135.00 281.00C136.62 280.37 139.22 280.67 140.30 280.00C141.38 279.33 141.30 277.50 141.50 277.00" />
<ellipse class="k" cx="125.00" cy="276.00" rx="6.40" ry="3.10" />
<ellipse class="kt" cx="125.00" cy="276.60" rx="4.40" ry="2.00" />
<ellipse class="kt" cx="112.50" cy="276.80" rx="1.60" ry="0.90" />
<ellipse class="kt" cx="137.60" cy="274.80" rx="1.60" ry="0.90" />
<path class="kw" d="M109.60 260.30C109.75 259.57 111.18 258.33 112.50 258.00C113.82 257.67 116.08 258.70 117.50 258.30C118.92 257.90 119.15 256.12 121.00 255.60C122.85 255.08 126.67 255.00 128.60 255.20C130.53 255.40 131.10 256.70 132.60 256.80C134.10 256.90 136.37 255.67 137.60 255.80C138.83 255.93 139.83 256.85 140.00 257.60C140.17 258.35 139.68 259.73 138.60 260.30C137.52 260.87 135.00 260.38 133.50 261.00C132.00 261.62 131.75 263.43 129.60 264.00C127.45 264.57 122.77 264.70 120.60 264.40C118.43 264.10 118.10 262.53 116.60 262.20C115.10 261.87 112.77 262.72 111.60 262.40C110.43 262.08 109.45 261.03 109.60 260.30Z" />
<ellipse class="k" cx="125.00" cy="259.80" rx="6.20" ry="3.00" />
<ellipse class="kt" cx="112.80" cy="260.30" rx="1.50" ry="0.85" />
<ellipse class="kt" cx="137.00" cy="257.30" rx="1.50" ry="0.85" />
<ellipse class="kw" cx="113.30" cy="287.60" rx="3.70" ry="1.90" />
<ellipse class="kk" cx="113.30" cy="287.60" rx="2.20" ry="1.00" />
<ellipse class="kw" cx="136.60" cy="285.60" rx="3.40" ry="1.80" />
<ellipse class="kk" cx="136.60" cy="285.60" rx="2.00" ry="0.95" />
<polygon class="f" points="111.70,300.00 114.90,300.00 114.90,307.50 111.70,307.50" />
<ellipse class="kw" cx="113.30" cy="308.30" rx="2.80" ry="1.90" />
<ellipse class="kt" cx="113.30" cy="308.30" rx="1.30" ry="0.80" />
<polygon class="f" points="135.20,296.00 138.20,296.00 138.20,303.00 135.20,303.00" />
<ellipse class="kw" cx="136.70" cy="303.80" rx="2.70" ry="1.80" />
<ellipse class="kt" cx="136.70" cy="303.80" rx="1.20" ry="0.70" />
<path class="kw" d="M98.8 381.3a11.2 3 0 0 1 22.4 0v3.4a11.2 3 0 0 1-22.4 0z" />
<path class="k" d="M98.8 381.3a11.2 3 0 0 0 22.4 0" />
<path class="kw" d="M103.4 387.2v7.4a6.6 2 0 0 0 13.2 0v-7.4" />
<ellipse class="kt" cx="110.00" cy="381.00" rx="6.40" ry="1.80" />
<path class="kw" d="M98.6 407.6v5a12.2 4.6 0 0 0 24.4 0v-5" />
<path class="k" d="M98.6 410.2a12.2 4.6 0 0 0 24.4 0" />
<ellipse class="kw" cx="110.80" cy="407.60" rx="12.20" ry="4.60" />
<ellipse class="kt" cx="110.80" cy="407.60" rx="9.60" ry="3.50" />
<ellipse class="kk" cx="110.80" cy="407.80" rx="6.40" ry="2.30" />
<ellipse class="kt" cx="110.80" cy="408.00" rx="4.60" ry="1.50" />
<polyline class="kw" points="182.50,351.30 196.00,346.00 212.50,341.30 232.00,336.00 250.00,331.30 266.00,328.60 272.50,328.00 278.00,329.20 280.60,330.60 283.60,337.60 286.60,337.00 287.20,348.80 284.00,350.20 283.60,353.20 280.00,354.60 273.60,350.00 265.00,356.30 264.60,362.00 263.80,366.30 273.80,375.00 273.20,377.60 264.00,392.50 257.00,405.00 250.00,416.30" />
<path class="kw" d="M250 416.3C242 413 228 414 217.5 420L217 431.3L211.3 428.8C210.3 420 209.5 412 208.8 405C207.6 396 205.6 390 203.8 385C200.6 378 197 372.5 193.8 367.5C190 362 186 357.5 182.5 351.3" />
<path class="kk" d="M182.50 351.30C184.75 350.42 191.00 347.67 196.00 346.00C201.00 344.33 206.50 342.97 212.50 341.30C218.50 339.63 225.75 337.67 232.00 336.00C238.25 334.33 244.33 332.53 250.00 331.30C255.67 330.07 262.25 329.15 266.00 328.60C269.75 328.05 271.42 328.10 272.50 328.00" />
<path class="k" d="M183.20 352.60C185.50 351.73 191.97 349.05 197.00 347.40C202.03 345.75 207.47 344.37 213.40 342.70C219.33 341.03 226.40 339.07 232.60 337.40C238.80 335.73 244.93 333.93 250.60 332.70C256.27 331.47 262.83 330.52 266.60 330.00C270.37 329.48 271.13 329.40 273.20 329.60C275.27 329.80 278.03 330.93 279.00 331.20" />
<path class="kt" d="M185.00 356.00C187.33 355.13 193.83 352.47 199.00 350.80C204.17 349.13 210.00 347.67 216.00 346.00C222.00 344.33 229.00 342.42 235.00 340.80C241.00 339.18 246.50 337.52 252.00 336.30C257.50 335.08 264.07 333.97 268.00 333.50C271.93 333.03 274.33 333.50 275.60 333.50" />
<path class="kt" d="M192.90 356.10C196.08 355.25 204.98 352.68 212.00 351.00C219.02 349.32 227.83 347.50 235.00 346.00C242.17 344.50 249.55 343.10 255.00 342.00C260.45 340.90 265.58 339.83 267.70 339.40" />
<path class="kt" d="M207.90 374.60C210.25 372.92 216.58 367.73 222.00 364.50C227.42 361.27 234.90 358.12 240.40 355.20C245.90 352.28 250.60 349.35 255.00 347.00C259.40 344.65 264.83 342.08 266.80 341.10" />
<path class="kt" d="M211.40 387.80C214.17 386.42 222.58 381.70 228.00 379.50C233.42 377.30 238.32 376.02 243.90 374.60C249.48 373.18 258.57 371.60 261.50 371.00" />
<path class="kt" d="M221.00 411.50C221.83 410.25 223.93 406.33 226.00 404.00C228.07 401.67 230.57 399.92 233.40 397.50C236.23 395.08 239.78 391.85 243.00 389.50C246.22 387.15 249.62 386.32 252.70 383.40C255.78 380.48 260.03 373.90 261.50 372.00" />
<path class="kt" d="M217.50 420.00C218.25 418.33 219.92 413.40 222.00 410.00C224.08 406.60 227.00 403.17 230.00 399.60C233.00 396.03 236.67 391.87 240.00 388.60C243.33 385.33 246.87 382.60 250.00 380.00C253.13 377.40 257.33 374.17 258.80 373.00" />
<path class="kt" d="M189.40 355.20C190.50 356.67 193.90 361.03 196.00 364.00C198.10 366.97 200.47 370.65 202.00 373.00C203.53 375.35 204.22 375.78 205.20 378.10C206.18 380.42 207.45 385.43 207.90 386.90" />
<polyline class="k" points="207.90,386.90 214.90,394.00 216.70,397.50 216.10,406.30" />
<polyline class="kt" points="275.60,333.50 276.20,347.00 273.60,350.00" />
<polyline class="kt" points="280.60,330.60 280.00,339.60 283.60,337.60" />
<polyline class="kt" points="265.00,356.30 268.80,358.80 268.30,369.50" />
<polyline class="kt" points="273.80,375.00 271.00,376.80 262.00,391.00 250.00,411.50 250.00,416.30" />
<polyline class="kt" points="269.60,376.60 260.60,391.00 248.60,410.60" />
<polyline class="kt" points="208.80,387.50 214.40,392.00 216.60,402.00 217.50,420.00" />
<polygon class="k" points="211.80,405.60 217.00,406.30 217.00,411.60 212.00,410.80" />
<polygon class="k" points="212.30,413.50 217.30,414.30 217.30,418.00 212.60,417.50" />
<path class="kw" d="M249.3 378.6l13.6 6.3l2.6-5.6L251.6 373.2a3 3 0 0 0-2.3 5.4z" />
<ellipse class="kw" cx="264.20" cy="382.20" rx="1.30" ry="2.90" transform="rotate(-25.0 264.20 382.20)" />
<path class="kw" d="M244.2 397.3l11.4 5.2l2.4-5L246.4 392.4a2.8 2.8 0 0 0-2.2 4.9z" />
<ellipse class="kw" cx="256.80" cy="400.00" rx="1.20" ry="2.60" transform="rotate(-25.0 256.80 400.00)" />
<ellipse class="kt" cx="190.00" cy="353.30" rx="2.60" ry="1.80" transform="rotate(-20.0 190.00 353.30)" />
<ellipse class="kt" cx="190.40" cy="353.50" rx="1.30" ry="0.90" transform="rotate(-20.0 190.40 353.50)" />
<ellipse class="kt" cx="221.30" cy="341.60" rx="2.60" ry="1.80" transform="rotate(-20.0 221.30 341.60)" />
<ellipse class="kt" cx="221.70" cy="341.80" rx="1.30" ry="0.90" transform="rotate(-20.0 221.70 341.80)" />
<ellipse class="kt" cx="260.30" cy="333.20" rx="2.60" ry="1.80" transform="rotate(-20.0 260.30 333.20)" />
<ellipse class="kt" cx="260.70" cy="333.40" rx="1.30" ry="0.90" transform="rotate(-20.0 260.70 333.40)" />
<ellipse class="kt" cx="252.00" cy="362.50" rx="2.60" ry="1.80" transform="rotate(-20.0 252.00 362.50)" />
<ellipse class="kt" cx="252.40" cy="362.70" rx="1.30" ry="0.90" transform="rotate(-20.0 252.40 362.70)" />
<ellipse class="f" cx="271.30" cy="390.20" rx="1.30" ry="1.10" />
<ellipse class="f" cx="263.20" cy="407.60" rx="1.30" ry="1.10" />
<polygon class="f" points="169.38,340.47 177.98,345.97 179.22,344.03 170.62,338.53" />
<ellipse class="f" cx="170.00" cy="339.50" rx="2.60" ry="2.21" />
<polygon class="f" points="200.70,330.18 209.80,335.78 211.00,333.82 201.90,328.22" />
<ellipse class="f" cx="201.30" cy="329.20" rx="2.60" ry="2.21" />
<polygon class="f" points="223.03,317.68 228.63,320.68 229.57,318.92 223.97,315.92" />
<ellipse class="f" cx="223.50" cy="316.80" rx="2.00" ry="1.70" />
<polygon class="f" points="239.37,319.70 249.37,326.70 250.63,324.90 240.63,317.90" />
<ellipse class="f" cx="240.00" cy="318.80" rx="2.50" ry="2.12" />
<ellipse class="rs" cx="177.60" cy="344.50" rx="0.90" ry="1.30" transform="rotate(35.0 177.60 344.50)" />
<ellipse class="rs" cx="209.40" cy="334.30" rx="0.90" ry="1.30" transform="rotate(35.0 209.40 334.30)" />
<ellipse class="rs" cx="249.20" cy="325.30" rx="0.90" ry="1.30" transform="rotate(35.0 249.20 325.30)" />
<line class="kw" x1="172.97" y1="343.38" x2="174.77" y2="340.58"/>
<line class="kw" x1="174.43" y1="344.31" x2="176.23" y2="341.51"/>
<line class="kw" x1="175.89" y1="345.25" x2="177.69" y2="342.45"/>
<line class="kw" x1="204.50" y1="333.12" x2="206.30" y2="330.32"/>
<line class="kw" x1="206.04" y1="334.07" x2="207.84" y2="331.27"/>
<line class="kw" x1="207.59" y1="335.02" x2="209.39" y2="332.22"/>
<line class="kw" x1="243.60" y1="323.35" x2="245.40" y2="320.55"/>
<line class="kw" x1="245.30" y1="324.54" x2="247.10" y2="321.74"/>
<line class="kw" x1="247.00" y1="325.73" x2="248.80" y2="322.93"/>
<polygon class="f" points="197.87,397.79 203.07,400.59 203.93,399.01 198.73,396.21" />
<ellipse class="f" cx="198.30" cy="397.00" rx="1.50" ry="1.27" />
<polygon class="f" points="198.39,407.60 203.89,410.40 204.71,408.80 199.21,406.00" />
<ellipse class="f" cx="198.80" cy="406.80" rx="1.50" ry="1.27" />
<polygon class="kw" points="128.24,441.77 142.69,456.07 144.81,453.93 130.36,439.63" />
<polygon class="f" points="137.78,451.20 142.69,456.07 144.81,453.93 139.89,449.07" />
<ellipse class="kw" cx="128.45" cy="439.86" rx="2.70" ry="2.20" transform="rotate(40.0 128.45 439.86)" />
<ellipse class="kt" cx="128.45" cy="439.86" rx="1.50" ry="1.10" transform="rotate(40.0 128.45 439.86)" />
<polygon class="kw" points="128.71,454.23 142.66,469.03 144.84,466.97 130.89,452.17" />
<polygon class="f" points="137.92,464.00 142.66,469.03 144.84,466.97 140.10,461.94" />
<ellipse class="kw" cx="128.98" cy="452.33" rx="2.70" ry="2.20" transform="rotate(40.0 128.98 452.33)" />
<ellipse class="kt" cx="128.98" cy="452.33" rx="1.50" ry="1.10" transform="rotate(40.0 128.98 452.33)" />
<polygon class="kw" points="145.70,434.92 159.40,449.77 161.60,447.73 147.90,432.88" />
<polygon class="f" points="154.74,444.72 159.40,449.77 161.60,447.73 156.94,442.68" />
<ellipse class="kw" cx="145.99" cy="433.02" rx="2.70" ry="2.20" transform="rotate(40.0 145.99 433.02)" />
<ellipse class="kt" cx="145.99" cy="433.02" rx="1.50" ry="1.10" transform="rotate(40.0 145.99 433.02)" />
<polygon class="kw" points="145.70,449.22 159.40,464.02 161.60,461.98 147.90,447.18" />
<polygon class="f" points="154.74,458.99 159.40,464.02 161.60,461.98 156.94,456.95" />
<ellipse class="kw" cx="145.98" cy="447.32" rx="2.70" ry="2.20" transform="rotate(40.0 145.98 447.32)" />
<ellipse class="kt" cx="145.98" cy="447.32" rx="1.50" ry="1.10" transform="rotate(40.0 145.98 447.32)" />
<ellipse class="kw" cx="160.70" cy="475.20" rx="3.70" ry="2.60" transform="rotate(-18.0 160.70 475.20)" />
<ellipse class="kt" cx="160.70" cy="475.20" rx="2.60" ry="1.80" transform="rotate(-18.0 160.70 475.20)" />
<ellipse class="k" cx="160.70" cy="475.20" rx="1.50" ry="1.00" transform="rotate(-18.0 160.70 475.20)" />
<ellipse class="kw" cx="157.90" cy="485.60" rx="3.70" ry="2.60" transform="rotate(-18.0 157.90 485.60)" />
<ellipse class="kt" cx="157.90" cy="485.60" rx="2.60" ry="1.80" transform="rotate(-18.0 157.90 485.60)" />
<ellipse class="k" cx="157.90" cy="485.60" rx="1.50" ry="1.00" transform="rotate(-18.0 157.90 485.60)" />
<ellipse class="kw" cx="176.60" cy="468.80" rx="3.70" ry="2.60" transform="rotate(-18.0 176.60 468.80)" />
<ellipse class="kt" cx="176.60" cy="468.80" rx="2.60" ry="1.80" transform="rotate(-18.0 176.60 468.80)" />
<ellipse class="k" cx="176.60" cy="468.80" rx="1.50" ry="1.00" transform="rotate(-18.0 176.60 468.80)" />
<ellipse class="kw" cx="177.80" cy="482.80" rx="3.70" ry="2.60" transform="rotate(-18.0 177.80 482.80)" />
<ellipse class="kt" cx="177.80" cy="482.80" rx="2.60" ry="1.80" transform="rotate(-18.0 177.80 482.80)" />
<ellipse class="k" cx="177.80" cy="482.80" rx="1.50" ry="1.00" transform="rotate(-18.0 177.80 482.80)" />
<polygon class="kw" points="174.80,493.70 182.90,488.30 199.70,484.00 200.20,482.30 227.30,477.10 231.10,478.60 234.40,485.60 234.90,493.20 232.20,497.50 206.70,503.50 207.80,510.50 205.70,514.90 201.30,515.90 200.60,513.60 190.00,517.20 188.30,518.60 182.90,518.60 176.90,512.70 174.20,502.90" />
<path class="k" d="M186.7 517.5V497.5C187.5 493.5 190.5 491.8 193.4 491.6C197 491.6 200 493.8 200.8 497.6V513.5" />
<path class="kt" d="M189.6 515.5V499.8C190.3 496.8 192 495.4 193.9 495.2C196 495.3 197.6 497 198 499.6V511" />
<polygon class="kt" points="190.00,499.70 194.80,498.60 198.60,503.00 195.40,506.20" />
<polyline class="kt" points="190.00,499.70 195.40,506.20" />
<polyline class="kt" points="189.60,508.50 198.00,506.60" />
<polyline class="kt" points="174.80,493.70 179.60,497.30 181.60,517.60" />
<polyline class="kt" points="179.60,497.30 186.70,494.00" />
<polyline class="kt" points="182.90,488.30 183.30,490.60" />
<polyline class="kt" points="199.70,484.00 201.30,486.10 203.20,499.50 206.70,503.50" />
<ellipse class="kt" cx="184.30" cy="501.30" rx="1.50" ry="1.70" />
<ellipse class="kt" cx="183.20" cy="507.30" rx="1.50" ry="1.70" />
<ellipse class="kt" cx="184.60" cy="514.00" rx="1.50" ry="1.70" />
<ellipse class="kt" cx="203.60" cy="503.60" rx="1.40" ry="1.60" />
<ellipse class="kt" cx="203.80" cy="511.40" rx="1.40" ry="1.60" />
<polyline class="kt" points="200.80,500.50 203.00,500.80" />
<polyline class="kt" points="200.80,507.50 203.20,507.60" />
<polygon class="k" points="203.50,486.60 224.60,480.60 229.60,481.50 231.60,489.50 229.30,494.60 208.00,500.60 204.60,497.60" />
<polygon class="kk" points="205.60,488.00 213.60,485.80 214.60,497.30 207.60,499.00" />
<polygon class="kk" points="216.30,485.00 224.30,482.80 228.30,484.00 229.30,490.30 227.60,493.50 217.60,496.30" />
<polyline class="kt" points="208.24,487.27 209.91,498.44" />
<polyline class="kt" points="220.26,484.50 221.06,495.38" />
<polyline class="kt" points="210.88,486.55 212.22,497.88" />
<polyline class="kt" points="224.22,484.01 224.53,494.45" />
<polyline class="kt" points="206.30,491.60 214.00,489.60" />
<polyline class="kt" points="206.90,495.30 214.30,493.40" />
<polyline class="kt" points="216.80,489.00 229.00,485.80" />
<polyline class="kt" points="217.20,492.60 228.60,489.60" />
<polygon class="kw" points="184.00,546.30 189.80,544.80 189.80,540.20 192.60,539.30 201.70,549.30 202.00,556.00 202.60,568.20 198.70,568.80 194.40,564.60 193.50,564.30 184.30,553.90" />
<polyline class="k" points="184.00,546.30 193.50,557.00 202.00,556.00" />
<polyline class="k" points="193.50,557.00 193.50,564.30 202.00,563.40" />
<polyline class="k" points="189.80,544.80 198.70,555.40" />
<polyline class="k" points="189.80,540.20 198.70,550.90 201.70,549.30" />
<polyline class="k" points="198.70,550.90 198.70,555.40" />
<polyline class="kt" points="194.40,564.60 198.60,563.80" />
<polyline class="kt" points="198.70,568.80 198.60,563.80" />
<polyline class="kt" points="196.60,566.60 200.60,566.00" />
<polygon class="kw" points="290.30,484.70 292.50,482.80 301.30,481.30 305.90,486.30 307.20,488.10 307.20,501.30 295.60,503.80 293.40,501.60 290.60,498.80" />
<polygon class="kk" points="290.30,484.70 293.40,487.20 293.40,501.60 290.60,498.80" />
<polyline class="kk" points="291.80,486.20 292.00,499.80" />
<polyline class="kk" points="293.40,487.20 305.90,486.30" />
<polyline class="kk" points="293.40,501.60 295.60,503.80" />
<polyline class="kt" points="292.60,484.40 301.00,483.00 304.60,486.40" />
<polyline class="kt" points="296.60,482.10 299.20,486.80" />
<!-- s_right -->
<polyline class="kw" points="489.10,480.40 489.10,495.60 485.10,497.40 489.60,503.60" />
<polyline class="kw" points="473.90,514.70 473.90,503.50 477.10,502.70 485.10,509.90" />
<polyline class="kt" points="489.10,495.60 492.60,492.60" />
<polyline class="kt" points="477.10,502.70 477.30,511.60" />
<path class="k" d="M437.2 526.7C444 525.6 451 523.6 457.9 521.4C463.5 520 469 518.6 473.9 517.1C478 515.6 481.8 513.6 485.1 511.2C488.6 508.6 492 505.5 494.7 501.9C496.6 499.4 497.9 496.8 498.7 494C499.3 492 499.5 489.8 499.5 487.6C499.3 485.5 498.4 483.5 497.1 482C496 480.6 494.6 479.8 493.1 479.6L489.1 480.4L491.5 481.6C493.6 483.6 495.4 486.6 496 489.6M497.1 482C499.6 484.5 500.9 487.6 501 490.8C501 494.6 500.6 498.4 499.5 502C498 507.5 495.9 512.9 493.1 517.9C490 524.6 486.2 531 481.9 537.1C478.6 542.2 474.9 547 470.7 551.5C466.8 555.6 462.6 559.4 457.9 562.7C453 566 447.7 568.6 442 570.6C437.9 572.6 433.6 574.3 429.2 575.4C426.6 575.9 424.2 575.6 422 574.6" />
<path class="kw" d="M437.2 526.7C444 525.6 451 523.6 457.9 521.4C463.5 520 469 518.6 473.9 517.1C478 515.6 481.8 513.6 485.1 511.2C488.6 508.6 492 505.5 494.7 501.9C496.6 499.4 497.9 496.8 498.7 494L501 490.8C501 494.6 500.6 498.4 499.5 502C498 507.5 495.9 512.9 493.1 517.9C490 524.6 486.2 531 481.9 537.1C478.6 542.2 474.9 547 470.7 551.5C466.8 555.6 462.6 559.4 457.9 562.7C453 566 447.7 568.6 442 570.6C437.9 572.6 433.6 574.3 429.2 575.4C426.6 575.9 424.2 575.6 422 574.6L417.2 565.8L415.6 530.4L426 533.9L435.6 533.1Z" />
<path class="k" d="M446.7 533.9C452 533 457.6 531.3 462.7 529.1C467.8 527.6 472.6 525.8 477.1 523.5C481.2 521.4 485 518.7 488.3 515.5C491.8 512.2 494.8 508.5 497.1 504.3C498.6 501.3 499.5 497.8 499.9 494.3" />
<path class="kt" d="M438.8 528.3C446 527.4 452.6 525.6 459.4 523.6C465 522.2 470.2 520.6 475.1 518.8C479.4 517.2 483 515 486.3 512.6C489.8 510 493 507 495.9 503.3" />
<path class="kt" d="M448.3 544.3C453.3 543.8 458.2 542.4 462.7 540.3C467.9 538.3 472.7 535.6 477.1 532.3C481.9 528.8 486.2 524.5 489.9 519.5C493.3 514.8 496 509.6 497.9 504" />
<path class="kt" d="M443.5 559.5C450 558.6 456.5 556 462.3 552.3C468.6 548.4 474.3 543.4 479.3 537.6" />
<path class="k" d="M446.7 537.1C448.2 539.6 448.8 542.4 448.3 545.1C447.6 550.2 445.9 555 443.5 559.5C441 564.2 437.8 568.5 434 572.2C431.6 574.2 428.9 575.6 426 576.1" />
<path class="kt" d="M426 533.9C428.6 536.5 430.3 539.8 430.8 543.4C431.5 549.6 431 555.8 429.3 561.6C428 566 425.8 570.2 422.9 573.6" />
<polyline class="kt" points="415.60,530.40 418.60,535.60 419.80,566.60 422.00,574.60" />
<polyline class="k" points="435.60,533.10 437.20,526.70" />
<polyline class="kt" points="435.60,533.10 446.70,537.10" />
<polygon class="kk" points="417.30,548.60 423.60,551.60 424.00,557.00 417.60,554.20" />
<polygon class="kk" points="417.80,556.80 424.20,559.80 424.50,566.60 418.20,563.80" />
<polyline class="kt" points="418.60,551.00 422.60,552.90" />
<polyline class="kt" points="419.00,553.30 422.80,555.10" />
<polyline class="kt" points="419.30,559.60 423.00,561.40" />
<polyline class="kt" points="419.50,562.00 423.20,563.80" />
<ellipse class="k" cx="443.80" cy="529.60" rx="1.60" ry="1.20" transform="rotate(-25.0 443.80 529.60)" />
<ellipse class="k" cx="476.30" cy="519.60" rx="1.60" ry="1.20" transform="rotate(-25.0 476.30 519.60)" />
<ellipse class="k" cx="497.80" cy="498.20" rx="1.60" ry="1.20" transform="rotate(-25.0 497.80 498.20)" />
<ellipse class="f" cx="470.20" cy="551.20" rx="0.70" ry="0.60" />
<ellipse class="f" cx="481.50" cy="536.50" rx="0.70" ry="0.60" />
<polygon class="f" points="500.30,467.30 502.30,466.30 504.30,467.50 504.60,469.80 502.60,471.30 500.60,470.00" />
<ellipse class="kw" cx="502.50" cy="468.60" rx="1.00" ry="0.80" />
<polygon class="f" points="511.91,506.35 506.61,502.55 505.39,504.25 510.69,508.05" />
<ellipse class="f" cx="511.30" cy="507.20" rx="1.90" ry="1.61" />
<ellipse class="kw" cx="517.00" cy="511.80" rx="2.90" ry="3.00" />
<polygon class="f" points="496.41,532.14 491.21,528.44 489.99,530.16 495.19,533.86" />
<ellipse class="f" cx="495.80" cy="533.00" rx="1.90" ry="1.61" />
<ellipse class="kw" cx="499.80" cy="536.20" rx="2.80" ry="3.00" />
<polygon class="f" points="490.18,540.52 486.78,537.62 485.62,538.98 489.02,541.88" />
<ellipse class="f" cx="489.60" cy="541.20" rx="1.60" ry="1.36" />
<polygon class="f" points="479.52,556.86 475.82,554.26 474.78,555.74 478.48,558.34" />
<ellipse class="f" cx="479.00" cy="557.60" rx="1.60" ry="1.36" />
<polygon class="f" points="470.86,567.78 466.16,563.98 464.84,565.62 469.54,569.42" />
<ellipse class="f" cx="470.20" cy="568.60" rx="1.90" ry="1.61" />
<ellipse class="kw" cx="474.00" cy="570.60" rx="2.90" ry="3.00" />
<polygon class="kw" points="363.80,575.00 366.30,571.50 375.50,571.30 377.50,574.30 377.50,590.60 375.00,593.80 366.00,593.80 363.80,591.00" />
<polygon class="kk" points="364.60,575.60 376.60,575.00 376.80,590.30 374.60,592.80 366.30,592.80 364.80,590.60" />
<polyline class="kt" points="366.30,571.50 366.60,575.40" />
<polyline class="kt" points="371.00,571.40 371.20,575.20" />
<polyline class="kt" points="375.50,571.30 376.60,575.00" />
<ellipse class="k" cx="368.20" cy="579.00" rx="1.90" ry="1.90" />
<ellipse class="k" cx="373.30" cy="579.00" rx="1.90" ry="1.90" />
<ellipse class="k" cx="368.20" cy="584.30" rx="1.90" ry="1.90" />
<ellipse class="k" cx="373.30" cy="584.30" rx="1.90" ry="1.90" />
<ellipse class="k" cx="368.20" cy="589.40" rx="1.90" ry="1.90" />
<ellipse class="k" cx="373.30" cy="589.40" rx="1.90" ry="1.90" />
<!-- s_bottom -->
<path class="kw" d="M276.1 635.7C276 633.5 276.2 632 276.7 630.9C277.4 629.2 278.4 628.2 279.8 627.8L294.4 626.6L296.2 627.2C296.4 626 296.8 625.2 297.4 624.8C298.4 624.4 299.5 624.4 300.5 624.8C302 625.4 303.2 626.2 304.1 627.2C305.6 628.6 306.8 629.8 307.8 630.9L312.7 631.5L343.2 627.2C344.8 627.4 346 628.2 346.8 629.6C347.9 631.4 348.5 633.4 348.7 635.7L348 646.7C347 648.5 345.4 649.5 343.2 649.8L316.3 654C315.4 652.2 313.6 651 311.6 650.8C309.2 650.6 307.2 651.6 305.8 653.4L292.6 654C291.2 652.2 289.6 651.4 287.8 651.6C285.8 651.8 284.2 652.8 283.6 654.2C280.6 652.4 278.4 649.8 277.3 646.7C276.5 643.2 276.1 639.5 276.1 635.7Z" />
<path class="kt" d="M283.3 640L304 636.4M283.6 648.5L283.8 640.5M312.7 631.5C318 633 330 632 343.5 629.8" />
<path class="kt" d="M296.2 627.2C297.4 631 299.6 634.4 302.2 637" />
<ellipse class="k" cx="287.70" cy="637.80" rx="5.00" ry="3.90" transform="rotate(-12.0 287.70 637.80)" />
<ellipse class="k" cx="288.20" cy="638.40" rx="2.90" ry="2.20" transform="rotate(-12.0 288.20 638.40)" />
<ellipse class="k" cx="309.00" cy="637.00" rx="5.00" ry="3.90" transform="rotate(-12.0 309.00 637.00)" />
<ellipse class="k" cx="309.50" cy="637.60" rx="2.90" ry="2.20" transform="rotate(-12.0 309.50 637.60)" />
<ellipse class="k" cx="288.30" cy="651.40" rx="5.00" ry="3.90" transform="rotate(-12.0 288.30 651.40)" />
<ellipse class="k" cx="288.80" cy="652.00" rx="2.90" ry="2.20" transform="rotate(-12.0 288.80 652.00)" />
<ellipse class="k" cx="309.60" cy="650.40" rx="5.00" ry="3.90" transform="rotate(-12.0 309.60 650.40)" />
<ellipse class="k" cx="310.10" cy="651.00" rx="2.90" ry="2.20" transform="rotate(-12.0 310.10 651.00)" />
<path class="kt" d="M293 640.6L293.6 649M303.6 640L304.5 648.6" />
<polygon class="f" points="316.29,666.61 313.65,669.29 309.61,668.68 308.21,665.39 310.85,662.71 314.89,663.32" />
<ellipse class="kt" cx="311.95" cy="665.80" rx="0.90" ry="0.70" stroke="#777"/>
<polygon class="f" points="336.04,663.11 333.40,665.79 329.36,665.18 327.96,661.89 330.60,659.21 334.64,659.82" />
<ellipse class="kt" cx="331.70" cy="662.30" rx="0.90" ry="0.70" stroke="#777"/>
<polygon class="f" points="316.29,680.11 313.65,682.79 309.61,682.18 308.21,678.89 310.85,676.21 314.89,676.82" />
<ellipse class="kt" cx="311.95" cy="679.30" rx="0.90" ry="0.70" stroke="#777"/>
<polygon class="f" points="336.04,676.61 333.40,679.29 329.36,678.68 327.96,675.39 330.60,672.71 334.64,673.32" />
<ellipse class="kt" cx="331.70" cy="675.80" rx="0.90" ry="0.70" stroke="#777"/>
<path class="bb" d="M239 672.5C246 669 252 666 257.5 663.8C263 661.5 268 659.6 272.5 660C276 660.6 277.6 663.6 280 666C284 667.6 289 667 292.5 665.5L297 663.6" />
<path class="bb" d="M292.5 665.8C290 671 287.5 674.5 285 676.5C281 679.5 277 680.8 272.5 681.5C268.5 682.5 265 684.5 262.5 686" />
<ellipse class="kw" cx="237.50" cy="673.00" rx="3.10" ry="1.90" transform="rotate(-25.0 237.50 673.00)" />
<ellipse class="kt" cx="237.30" cy="673.10" rx="1.30" ry="0.80" transform="rotate(-25.0 237.30 673.10)" />
<ellipse class="kw" cx="298.50" cy="663.00" rx="4.00" ry="2.90" transform="rotate(-30.0 298.50 663.00)" />
<ellipse class="rs" cx="298.50" cy="663.00" rx="2.00" ry="1.40" transform="rotate(-30.0 298.50 663.00)" />
<ellipse class="kw" cx="261.30" cy="686.40" rx="3.20" ry="2.00" transform="rotate(-25.0 261.30 686.40)" />
<ellipse class="kt" cx="261.20" cy="686.50" rx="1.40" ry="0.85" transform="rotate(-25.0 261.20 686.50)" />
<polygon class="f" points="243.20,680.20 245.20,679.30 248.00,682.60 246.00,683.70" />
<ellipse class="f" cx="271.50" cy="694.50" rx="5.30" ry="4.40" transform="rotate(20.0 271.50 694.50)" />
<ellipse class="rs" cx="272.60" cy="695.00" rx="1.70" ry="1.30" transform="rotate(20.0 272.60 695.00)" />
<!-- s_red -->
<polyline class="r" points="343.50,181.00 343.50,75.00 368.00,71.25 535.00,40.00 535.00,69.00" />
<polyline class="rs" points="535.00,76.30 535.00,80.50" />
<polyline class="rs" points="535.00,93.80 535.00,96.20" />
<polyline class="rs" points="535.00,107.50 535.00,112.00" />
<polyline class="rs" points="535.00,118.80 535.00,127.50" />
<polyline class="rs" points="535.00,153.00 535.00,161.50" />
<polyline class="rs" points="535.00,165.00 535.00,182.00" />
<polyline class="rs" points="284.00,66.00 284.00,92.00" />
<polyline class="rs" points="316.50,59.00 316.50,64.00" />
<polyline class="rs" points="306.50,145.00 306.50,175.00" />
<polyline class="rs" points="333.50,142.50 333.50,152.00" />
<polyline class="rs" points="336.50,144.00 336.50,166.00" />
<polyline class="rs" points="370.60,113.50 370.60,143.00" />
<polyline class="r" points="476.25,113.75 476.25,137.00 431.75,147.50" />
<polyline class="rs" points="431.75,147.50 431.75,156.00" />
<polyline class="r" points="124.50,276.00 124.50,235.00 256.00,215.50 372.25,198.50" />
<polyline class="rs" points="367.25,198.75 367.25,182.50" />
<polyline class="rs" points="113.25,260.00 113.25,300.00" />
<polyline class="rs" points="136.50,257.00 136.50,296.00" />
<polyline class="rs" points="110.50,396.00 110.50,409.60" />
<polyline class="rs" points="294.25,269.50 294.25,283.00" />
<polyline class="rs" points="320.75,253.00 320.75,274.00" />
<polyline class="rs" points="328.50,267.00 328.50,290.00" />
<polyline class="rs" points="312.60,265.00 312.60,281.00" />
<polyline class="rs" points="313.00,309.00 313.00,317.00" />
<polyline class="rs" points="321.00,285.00 362.25,278.00" />
<polyline class="r" points="328.50,292.50 368.50,286.25" />
<polyline class="rs" points="371.00,258.75 416.00,292.50" />
<polyline class="r" points="313.00,325.00 313.00,412.00" />
<polyline class="r" points="310.00,336.50 310.00,402.00" />
<polyline class="r" points="391.20,422.50 391.20,306.25 440.00,297.00 500.00,285.75" />
<polyline class="r" points="419.50,321.50 419.50,397.50" />
<polyline class="rs" points="434.00,369.00 434.00,392.00" />
<polyline class="r" points="553.75,231.25 600.75,222.50" />
<polyline class="r" points="251.50,327.50 506.00,504.00" />
<polyline class="rs" points="211.00,336.00 221.30,342.60" />
<polyline class="r" points="237.00,352.00 491.00,530.00" />
<polyline class="rs" points="229.50,321.00 237.00,324.00" />
<polyline class="r" points="237.00,324.00 237.00,352.30" />
<polyline class="r" points="264.50,385.40 458.70,521.20" />
<polyline class="rs" points="480.50,536.40 486.00,540.20" />
<polyline class="rs" points="179.50,346.00 190.00,353.30" />
<polyline class="r" points="255.50,399.60 437.50,528.00" />
<polyline class="rs" points="468.70,550.10 474.50,554.20" />
<polyline class="rs" points="444.50,530.00 451.00,533.00 451.00,554.00 465.00,565.00" />
<polyline class="rs" points="489.50,479.50 501.25,470.00" />
<polyline class="rs" points="221.25,492.50 235.00,506.25" />
<polyline class="r" points="235.00,506.25 387.50,466.25" />
<polyline class="rs" points="300.00,495.00 311.25,507.50" />
<polyline class="r" points="202.20,553.90 310.00,534.50" />
<polyline class="rs" points="336.25,542.50 365.00,573.75" />
<polyline class="rs" points="373.75,586.25 386.25,600.00" />
<polyline class="r" points="386.25,600.00 290.00,623.75" />
<polyline class="rs" points="143.75,455.00 160.00,473.75 175.00,491.00" stroke-dasharray="7 2"/>
<polyline class="rs" points="143.75,468.00 157.50,485.00 175.00,503.75" stroke-dasharray="7 2"/>
<polyline class="rs" points="160.50,448.75 177.00,467.50 192.50,486.25" stroke-dasharray="7 2"/>
<polyline class="rs" points="160.50,463.00 178.00,482.00 184.00,488.50" stroke-dasharray="7 2"/>
<polyline class="rs" points="287.25,638.75 312.25,666.00" stroke-dasharray="9 2"/>
<polyline class="rs" points="308.50,637.50 332.00,662.50" stroke-dasharray="9 2"/>
<polyline class="rs" points="288.50,652.50 312.25,679.50" stroke-dasharray="9 2"/>
<polyline class="rs" points="309.75,651.00 332.00,676.00" stroke-dasharray="9 2"/>
<polyline class="rs" points="258.00,682.50 275.00,696.25" />
<polyline class="rs" points="203.75,400.00 212.50,407.50" />
<polyline class="rs" points="204.50,409.50 213.75,417.50" />
<!-- s_labels -->
<text transform="translate(293.10 47.00) scale(.835 1)">16</text>
<line class="b" x1="299.00" y1="48.00" x2="284.50" y2="61.00"/>
<line class="b" x1="299.00" y1="48.00" x2="316.00" y2="54.50"/>
<text transform="translate(381.35 48.20) scale(.835 1)">35</text>
<line class="b" x1="375.50" y1="49.50" x2="392.50" y2="49.50"/>
<line class="b" x1="375.50" y1="49.50" x2="358.00" y2="86.00"/>
<text transform="translate(389.60 77.20) scale(.835 1)">30</text>
<line class="b" x1="388.50" y1="78.50" x2="401.50" y2="78.50"/>
<line class="b" x1="388.50" y1="78.50" x2="371.75" y2="106.25"/>
<text transform="translate(419.35 77.20) scale(.835 1)">31</text>
<line class="b" x1="418.00" y1="78.50" x2="431.00" y2="78.50"/>
<line class="b" x1="418.00" y1="78.50" x2="398.50" y2="116.25"/>
<text transform="translate(447.10 76.70) scale(.835 1)">32</text>
<line class="b" x1="444.25" y1="78.00" x2="458.50" y2="78.00"/>
<line class="b" x1="444.25" y1="78.00" x2="419.25" y2="128.75"/>
<text transform="translate(475.60 82.45) scale(.835 1)">34</text>
<line class="b" x1="473.50" y1="83.75" x2="487.50" y2="83.75"/>
<line class="b" x1="473.50" y1="83.75" x2="455.50" y2="119.50"/>
<text transform="translate(503.85 94.20) scale(.835 1)">48</text>
<line class="b" x1="503.00" y1="95.50" x2="515.50" y2="95.50"/>
<line class="b" x1="503.00" y1="95.50" x2="478.00" y2="103.75"/>
<text transform="translate(556.10 33.70) scale(.835 1)">47</text>
<line class="b" x1="554.50" y1="35.00" x2="569.50" y2="35.00"/>
<line class="b" x1="554.50" y1="35.00" x2="536.00" y2="71.25"/>
<text transform="translate(556.60 63.20) scale(.835 1)">46</text>
<line class="b" x1="555.00" y1="64.50" x2="570.50" y2="64.50"/>
<line class="b" x1="555.00" y1="64.50" x2="536.75" y2="98.75"/>
<text transform="translate(557.85 103.70) scale(.835 1)">45</text>
<line class="b" x1="556.50" y1="105.00" x2="572.00" y2="105.00"/>
<line class="b" x1="556.50" y1="105.00" x2="538.75" y2="141.25"/>
<text transform="translate(559.60 136.20) scale(.835 1)">44</text>
<line class="b" x1="558.00" y1="137.50" x2="573.25" y2="137.50"/>
<line class="b" x1="558.00" y1="137.50" x2="539.25" y2="172.50"/>
<text transform="translate(634.10 181.90) scale(.835 1)">12</text>
<line class="b" x1="631.50" y1="183.20" x2="647.00" y2="183.20"/>
<line class="b" x1="631.50" y1="183.20" x2="613.25" y2="218.75"/>
<text transform="translate(567.85 186.20) scale(.835 1)">13</text>
<line class="b" x1="565.00" y1="187.50" x2="581.00" y2="187.50"/>
<line class="b" x1="565.00" y1="187.50" x2="547.00" y2="223.75"/>
<text transform="translate(510.85 193.70) scale(.835 1)">14</text>
<line class="b" x1="509.50" y1="195.00" x2="525.00" y2="195.00"/>
<line class="b" x1="509.50" y1="195.00" x2="491.25" y2="230.00"/>
<text transform="translate(272.35 109.50) scale(.835 1)">28</text>
<line class="b" x1="269.50" y1="110.80" x2="283.50" y2="110.80"/>
<line class="b" x1="282.75" y1="110.80" x2="305.25" y2="141.50"/>
<text transform="translate(298.10 108.20) scale(.835 1)">29</text>
<line class="b" x1="297.00" y1="109.50" x2="309.50" y2="109.50"/>
<line class="b" x1="309.00" y1="109.50" x2="327.75" y2="136.25"/>
<text transform="translate(348.60 104.00) scale(.835 1)">33</text>
<line class="b" x1="347.00" y1="105.30" x2="360.25" y2="105.30"/>
<line class="b" x1="360.25" y1="105.30" x2="376.50" y2="131.50"/>
<text transform="translate(348.10 125.00) scale(.835 1)">63</text>
<line class="b" x1="359.50" y1="121.00" x2="371.00" y2="128.70"/>
<text transform="translate(281.85 181.20) scale(.835 1)">10</text>
<line class="b" x1="279.00" y1="182.50" x2="293.50" y2="182.50"/>
<line class="b" x1="293.50" y1="182.50" x2="328.50" y2="220.00"/>
<text transform="translate(279.35 195.50) scale(.835 1)">9</text>
<line class="b" x1="274.00" y1="196.80" x2="285.00" y2="196.80"/>
<line class="b" x1="285.00" y1="196.80" x2="314.75" y2="233.75"/>
<text transform="translate(277.60 218.00) scale(.835 1)">8</text>
<line class="b" x1="273.00" y1="219.30" x2="283.50" y2="219.30"/>
<line class="b" x1="283.50" y1="219.30" x2="312.25" y2="256.25"/>
<text transform="translate(259.35 228.50) scale(.835 1)">5</text>
<line class="b" x1="257.50" y1="229.80" x2="266.50" y2="229.80"/>
<line class="b" x1="266.50" y1="229.80" x2="293.50" y2="260.00"/>
<text transform="translate(259.60 250.30) scale(.835 1)">4</text>
<line class="b" x1="252.00" y1="251.60" x2="267.00" y2="251.60"/>
<line class="b" x1="267.00" y1="251.60" x2="293.50" y2="283.75"/>
<text transform="translate(255.60 269.90) scale(.835 1)">3</text>
<line class="b" x1="248.50" y1="271.20" x2="263.50" y2="271.20"/>
<line class="b" x1="263.50" y1="271.20" x2="296.00" y2="295.00"/>
<text transform="translate(255.60 286.70) scale(.835 1)">2</text>
<line class="b" x1="247.50" y1="288.00" x2="263.50" y2="288.00"/>
<line class="b" x1="263.50" y1="288.00" x2="310.00" y2="318.00"/>
<text transform="translate(397.60 191.40) scale(.835 1)">25</text>
<line class="b" x1="394.75" y1="192.70" x2="411.00" y2="192.70"/>
<line class="b" x1="394.75" y1="192.70" x2="376.75" y2="228.75"/>
<text transform="translate(413.60 224.40) scale(.835 1)">22</text>
<line class="b" x1="411.50" y1="225.70" x2="427.00" y2="225.70"/>
<line class="b" x1="411.50" y1="225.70" x2="392.25" y2="261.25"/>
<text transform="translate(427.60 240.90) scale(.835 1)">23</text>
<line class="b" x1="425.50" y1="242.20" x2="441.00" y2="242.20"/>
<line class="b" x1="425.50" y1="242.20" x2="406.00" y2="280.00"/>
<text transform="translate(440.10 256.40) scale(.835 1)">24</text>
<line class="b" x1="435.00" y1="257.70" x2="453.50" y2="257.70"/>
<line class="b" x1="435.00" y1="257.70" x2="420.50" y2="291.50"/>
<text transform="translate(440.85 282.40) scale(.835 1)">16</text>
<line class="b" x1="433.00" y1="283.70" x2="454.50" y2="283.70"/>
<line class="b" x1="433.00" y1="283.70" x2="422.25" y2="317.00"/>
<text transform="translate(364.85 324.00) scale(.835 1)">6</text>
<line class="b" x1="359.75" y1="325.30" x2="374.00" y2="325.30"/>
<line class="b" x1="359.75" y1="325.30" x2="344.75" y2="285.00"/>
<text transform="translate(385.60 324.00) scale(.835 1)">7</text>
<line class="b" x1="383.50" y1="325.30" x2="395.00" y2="325.30"/>
<line class="b" x1="383.50" y1="325.30" x2="371.00" y2="287.50"/>
<text transform="translate(464.60 379.00) scale(.835 1)">15</text>
<line class="b" x1="461.25" y1="380.30" x2="478.00" y2="380.30"/>
<line class="b" x1="461.25" y1="380.30" x2="443.75" y2="343.75"/>
<text transform="translate(460.35 408.40) scale(.835 1)">11</text>
<line class="b" x1="457.00" y1="409.70" x2="474.00" y2="409.70"/>
<line class="b" x1="457.00" y1="409.70" x2="436.25" y2="368.75"/>
<text transform="translate(255.85 310.30) scale(.835 1)">52</text>
<line class="b" x1="262.50" y1="311.30" x2="262.50" y2="330.00"/>
<text transform="translate(287.85 333.25) scale(.835 1)">59</text>
<line class="b" x1="296.00" y1="334.30" x2="291.00" y2="360.00"/>
<text transform="translate(299.10 369.50) scale(.835 1)">1</text>
<line class="b" x1="303.30" y1="370.50" x2="307.50" y2="370.50"/>
<line class="b" x1="307.50" y1="370.50" x2="313.00" y2="388.75"/>
<text transform="translate(85.35 298.90) scale(.835 1)">19</text>
<line class="b" x1="82.50" y1="300.20" x2="99.00" y2="300.20"/>
<line class="b" x1="99.00" y1="300.20" x2="111.50" y2="261.25"/>
<text transform="translate(83.60 325.10) scale(.835 1)">18</text>
<line class="b" x1="80.75" y1="326.40" x2="97.50" y2="326.40"/>
<line class="b" x1="97.50" y1="326.40" x2="110.75" y2="287.50"/>
<text transform="translate(87.85 346.90) scale(.835 1)">17</text>
<line class="b" x1="86.50" y1="348.20" x2="100.00" y2="348.20"/>
<line class="b" x1="100.00" y1="348.20" x2="112.50" y2="308.75"/>
<text transform="translate(140.35 322.00) scale(.835 1)">20</text>
<line class="b" x1="137.50" y1="323.30" x2="154.00" y2="323.30"/>
<line class="b" x1="137.50" y1="323.30" x2="118.25" y2="358.75"/>
<text transform="translate(142.35 368.20) scale(.835 1)">21</text>
<line class="b" x1="139.50" y1="369.50" x2="155.50" y2="369.50"/>
<line class="b" x1="139.50" y1="369.50" x2="121.25" y2="404.50"/>
<text transform="translate(181.10 289.50) scale(.835 1)">53</text>
<line class="b" x1="189.00" y1="291.30" x2="175.75" y2="341.25"/>
<line class="b" x1="189.00" y1="291.30" x2="202.00" y2="327.50"/>
<line class="b" x1="189.00" y1="291.30" x2="247.00" y2="323.75"/>
<text transform="translate(217.85 300.90) scale(.835 1)">54</text>
<line class="b" x1="216.50" y1="302.20" x2="231.50" y2="302.20"/>
<line class="b" x1="216.50" y1="302.20" x2="224.50" y2="316.25"/>
<text transform="translate(236.60 308.40) scale(.835 1)">60</text>
<line class="b" x1="235.50" y1="309.70" x2="250.00" y2="309.70"/>
<line class="b" x1="235.50" y1="309.70" x2="240.00" y2="317.50"/>
<text transform="translate(185.35 312.60) scale(.835 1)">61</text>
<line class="b" x1="182.00" y1="313.90" x2="196.00" y2="313.90"/>
<line class="b" x1="196.00" y1="313.90" x2="202.00" y2="327.50"/>
<text transform="translate(205.85 320.50) scale(.835 1)">56</text>
<line class="b" x1="210.75" y1="321.30" x2="207.00" y2="330.00"/>
<line class="b" x1="210.75" y1="321.30" x2="177.00" y2="342.50"/>
<line class="b" x1="216.00" y1="321.30" x2="249.50" y2="325.00"/>
<text transform="translate(164.60 330.50) scale(.835 1)">62</text>
<line class="b" x1="165.75" y1="331.50" x2="169.50" y2="337.50"/>
<text transform="translate(177.60 414.25) scale(.835 1)">55</text>
<line class="b" x1="189.50" y1="410.00" x2="198.75" y2="398.75"/>
<line class="b" x1="189.50" y1="410.00" x2="198.75" y2="407.50"/>
<text transform="translate(164.60 421.90) scale(.835 1)">40</text>
<line class="b" x1="162.00" y1="423.20" x2="178.50" y2="423.20"/>
<line class="b" x1="162.50" y1="423.20" x2="153.75" y2="437.50"/>
<line class="b" x1="162.50" y1="423.20" x2="160.00" y2="460.00"/>
<text transform="translate(103.35 450.10) scale(.835 1)">49</text>
<line class="b" x1="102.00" y1="451.40" x2="115.50" y2="451.40"/>
<line class="b" x1="115.50" y1="451.40" x2="127.50" y2="444.50"/>
<line class="b" x1="115.50" y1="451.40" x2="138.75" y2="463.75"/>
<text transform="translate(199.60 445.90) scale(.835 1)">39</text>
<line class="b" x1="197.50" y1="447.20" x2="214.00" y2="447.20"/>
<line class="b" x1="197.50" y1="447.20" x2="178.75" y2="480.00"/>
<text transform="translate(227.10 448.40) scale(.835 1)">38</text>
<line class="b" x1="224.50" y1="449.70" x2="240.00" y2="449.70"/>
<line class="b" x1="224.50" y1="449.70" x2="206.25" y2="486.25"/>
<text transform="translate(256.60 512.00) scale(.835 1)">36</text>
<line class="b" x1="268.75" y1="506.50" x2="292.50" y2="493.75"/>
<text transform="translate(223.35 523.20) scale(.835 1)">37</text>
<line class="b" x1="220.00" y1="524.50" x2="236.50" y2="524.50"/>
<line class="b" x1="220.00" y1="524.50" x2="192.50" y2="542.50"/>
<text transform="translate(397.85 538.20) scale(.835 1)">36</text>
<line class="b" x1="395.00" y1="539.50" x2="411.00" y2="539.50"/>
<line class="b" x1="395.00" y1="539.50" x2="376.25" y2="573.75"/>
<text transform="translate(422.85 462.20) scale(.835 1)">26</text>
<line class="b" x1="419.50" y1="463.50" x2="435.50" y2="463.50"/>
<line class="b" x1="419.50" y1="463.50" x2="395.00" y2="426.25"/>
<text transform="translate(422.85 481.40) scale(.835 1)">27</text>
<line class="b" x1="420.00" y1="482.70" x2="436.50" y2="482.70"/>
<line class="b" x1="420.00" y1="482.70" x2="392.50" y2="440.00"/>
<text transform="translate(517.60 470.00) scale(.835 1)">58</text>
<line class="b" x1="517.50" y1="463.75" x2="503.75" y2="468.75"/>
<text transform="translate(518.35 482.50) scale(.835 1)">51</text>
<line class="b" x1="518.00" y1="477.00" x2="500.00" y2="488.75"/>
<text transform="translate(530.35 523.75) scale(.835 1)">60</text>
<line class="b" x1="530.00" y1="517.50" x2="520.00" y2="512.50"/>
<text transform="translate(512.10 548.75) scale(.835 1)">61</text>
<line class="b" x1="512.00" y1="546.25" x2="502.50" y2="538.75"/>
<text transform="translate(492.60 562.50) scale(.835 1)">57</text>
<line class="b" x1="492.50" y1="554.25" x2="488.75" y2="541.25"/>
<line class="b" x1="492.50" y1="554.25" x2="478.75" y2="557.00"/>
<text transform="translate(509.60 569.50) scale(.835 1)">56</text>
<line class="b" x1="508.75" y1="560.00" x2="509.25" y2="507.50"/>
<line class="b" x1="508.75" y1="560.00" x2="495.00" y2="532.50"/>
<line class="b" x1="508.75" y1="560.00" x2="471.25" y2="567.00"/>
<text transform="translate(534.60 580.75) scale(.835 1)">53</text>
<line class="b" x1="532.50" y1="573.00" x2="513.75" y2="511.25"/>
<line class="b" x1="532.50" y1="573.00" x2="501.25" y2="537.50"/>
<line class="b" x1="532.50" y1="573.00" x2="475.00" y2="570.00"/>
<text transform="translate(479.10 590.50) scale(.835 1)">62</text>
<line class="b" x1="480.00" y1="581.25" x2="475.00" y2="573.75"/>
<text transform="translate(356.60 624.70) scale(.835 1)">42</text>
<line class="b" x1="354.00" y1="626.00" x2="369.50" y2="626.00"/>
<line class="b" x1="354.00" y1="626.00" x2="334.75" y2="662.50"/>
<text transform="translate(206.60 638.20) scale(.835 1)">43</text>
<line class="b" x1="203.75" y1="639.50" x2="219.00" y2="639.50"/>
<line class="b" x1="218.75" y1="639.50" x2="244.50" y2="680.50"/>
<text transform="translate(234.60 637.90) scale(.835 1)">41</text>
<line class="b" x1="231.25" y1="639.20" x2="247.00" y2="639.20"/>
<line class="b" x1="247.00" y1="639.20" x2="272.50" y2="680.50"/>
<text transform="translate(214.10 685.40) scale(.835 1)">50</text>
<line class="b" x1="211.25" y1="686.70" x2="226.25" y2="686.70"/>
<line class="b" x1="226.25" y1="686.70" x2="267.00" y2="693.75"/>
<polyline class="b" points="272.50,391.25 275.00,402.50 263.75,407.50" />
</svg></body></html>
